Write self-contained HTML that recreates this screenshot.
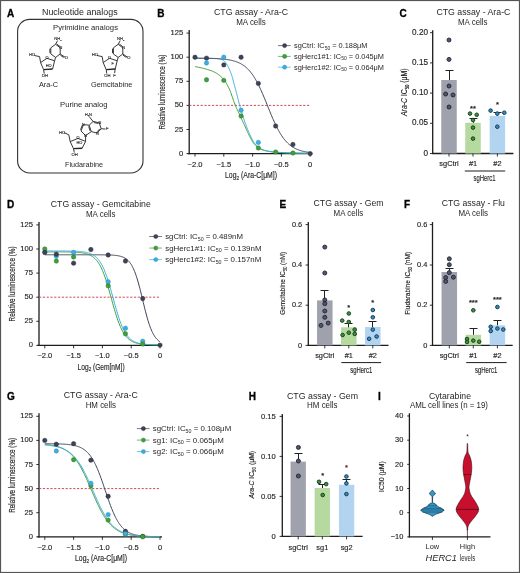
<!DOCTYPE html>
<html><head><meta charset="utf-8"><style>
html,body{margin:0;padding:0;background:#fff;}
svg{display:block;will-change:transform;}
text{font-family:"Liberation Sans", sans-serif;}
.h{stroke:#231f20;stroke-width:0.15px;}
</style></head><body>
<svg width="520" height="573" viewBox="0 0 520 573">
<rect width="520" height="573" fill="#fff"/>
<g fill="#231f20">
<rect x="0.5" y="0.5" width="519" height="572" fill="none" stroke="#555" stroke-width="1.2"/>
<text x="7.00" y="17.00" font-size="10" font-weight="bold" fill="#000" stroke="#000" stroke-width="0.3">A</text>
<text x="42.00" y="14.60" font-size="8.9" textLength="75.60" lengthAdjust="spacingAndGlyphs">Nucleotide analogs</text>
<rect x="17.6" y="19.4" width="125.4" height="153.6" rx="12" ry="12" fill="none" stroke="#333" stroke-width="1.1"/>
<text x="53.00" y="30.00" font-size="7.7" textLength="65.00" lengthAdjust="spacingAndGlyphs">Pyrimidine analogs</text>
<text x="39.00" y="87.00" font-size="7.3" textLength="19.00" lengthAdjust="spacingAndGlyphs">Ara-C</text>
<text x="91.00" y="87.00" font-size="7.4" textLength="41.40" lengthAdjust="spacingAndGlyphs">Gemcitabine</text>
<text x="60.00" y="107.40" font-size="7.7" textLength="47.60" lengthAdjust="spacingAndGlyphs">Purine analog</text>
<text x="65.00" y="167.00" font-size="7.2" textLength="38.00" lengthAdjust="spacingAndGlyphs">Fludarabine</text>
<line x1="55.60" y1="44.30" x2="57.60" y2="40.60" stroke="#222" stroke-width="0.9"/>
<line x1="55.60" y1="44.30" x2="60.20" y2="47.80" stroke="#222" stroke-width="0.9"/>
<line x1="56.83" y1="44.11" x2="60.05" y2="46.56" stroke="#222" stroke-width="0.9"/>
<line x1="60.20" y1="47.80" x2="60.20" y2="54.00" stroke="#222" stroke-width="0.9"/>
<line x1="60.20" y1="54.00" x2="55.60" y2="57.40" stroke="#222" stroke-width="0.9"/>
<line x1="55.60" y1="57.40" x2="50.80" y2="54.00" stroke="#222" stroke-width="0.9"/>
<line x1="50.80" y1="54.00" x2="50.80" y2="47.80" stroke="#222" stroke-width="0.9"/>
<line x1="49.90" y1="53.07" x2="49.90" y2="48.73" stroke="#222" stroke-width="0.9"/>
<line x1="50.80" y1="47.80" x2="55.60" y2="44.30" stroke="#222" stroke-width="0.9"/>
<line x1="60.20" y1="54.00" x2="65.00" y2="57.20" stroke="#222" stroke-width="0.9"/>
<line x1="60.42" y1="55.23" x2="63.78" y2="57.47" stroke="#222" stroke-width="0.9"/>
<text x="58.00" y="40.40" font-size="4.14" text-anchor="middle" style="fill:#222;stroke:#222;stroke-width:0.12px">NH<tspan font-size="2.4" dy="0.8">2</tspan></text>
<text x="61.00" y="49.10" font-size="3.9099999999999997" text-anchor="middle" style="fill:#222;stroke:#222;stroke-width:0.12px">N</text>
<text x="66.30" y="58.60" font-size="4.14" text-anchor="middle" style="fill:#222;stroke:#222;stroke-width:0.12px">O</text>
<line x1="40.60" y1="62.60" x2="46.90" y2="58.30" stroke="#222" stroke-width="0.9"/>
<line x1="46.90" y1="58.30" x2="54.60" y2="60.80" stroke="#222" stroke-width="0.9"/>
<line x1="54.60" y1="60.80" x2="52.60" y2="69.00" stroke="#222" stroke-width="0.9"/>
<line x1="52.60" y1="69.00" x2="43.60" y2="69.60" stroke="#222" stroke-width="1.4"/>
<line x1="43.60" y1="69.60" x2="40.60" y2="62.60" stroke="#222" stroke-width="0.9"/>
<line x1="54.60" y1="60.80" x2="55.60" y2="57.40" stroke="#222" stroke-width="0.9"/>
<line x1="40.60" y1="62.60" x2="39.60" y2="56.60" stroke="#222" stroke-width="0.9"/>
<line x1="39.60" y1="56.60" x2="34.40" y2="55.50" stroke="#222" stroke-width="0.9"/>
<text x="32.20" y="56.40" font-size="4.14" text-anchor="middle" style="fill:#222;stroke:#222;stroke-width:0.12px">HO</text>
<text x="46.90" y="58.70" font-size="3.9099999999999997" text-anchor="middle" style="fill:#222;stroke:#222;stroke-width:0.12px">O</text>
<line x1="43.60" y1="69.60" x2="44.20" y2="73.60" stroke="#222" stroke-width="0.9"/>
<text x="44.80" y="77.20" font-size="4.14" text-anchor="middle" style="fill:#222;stroke:#222;stroke-width:0.12px">OH</text>
<text x="48.60" y="66.80" font-size="3.9099999999999997" text-anchor="middle" style="fill:#222;stroke:#222;stroke-width:0.12px">HO</text>
<line x1="118.20" y1="44.30" x2="120.20" y2="40.60" stroke="#222" stroke-width="0.9"/>
<line x1="118.20" y1="44.30" x2="122.80" y2="47.80" stroke="#222" stroke-width="0.9"/>
<line x1="119.43" y1="44.11" x2="122.65" y2="46.56" stroke="#222" stroke-width="0.9"/>
<line x1="122.80" y1="47.80" x2="122.80" y2="54.00" stroke="#222" stroke-width="0.9"/>
<line x1="122.80" y1="54.00" x2="118.20" y2="57.40" stroke="#222" stroke-width="0.9"/>
<line x1="118.20" y1="57.40" x2="113.40" y2="54.00" stroke="#222" stroke-width="0.9"/>
<line x1="113.40" y1="54.00" x2="113.40" y2="47.80" stroke="#222" stroke-width="0.9"/>
<line x1="112.50" y1="53.07" x2="112.50" y2="48.73" stroke="#222" stroke-width="0.9"/>
<line x1="113.40" y1="47.80" x2="118.20" y2="44.30" stroke="#222" stroke-width="0.9"/>
<line x1="122.80" y1="54.00" x2="127.60" y2="57.20" stroke="#222" stroke-width="0.9"/>
<line x1="123.02" y1="55.23" x2="126.38" y2="57.47" stroke="#222" stroke-width="0.9"/>
<text x="120.60" y="40.40" font-size="4.14" text-anchor="middle" style="fill:#222;stroke:#222;stroke-width:0.12px">NH<tspan font-size="2.4" dy="0.8">2</tspan></text>
<text x="123.60" y="49.10" font-size="3.9099999999999997" text-anchor="middle" style="fill:#222;stroke:#222;stroke-width:0.12px">N</text>
<text x="128.90" y="58.60" font-size="4.14" text-anchor="middle" style="fill:#222;stroke:#222;stroke-width:0.12px">O</text>
<line x1="103.20" y1="62.60" x2="109.50" y2="58.30" stroke="#222" stroke-width="0.9"/>
<line x1="109.50" y1="58.30" x2="117.20" y2="60.80" stroke="#222" stroke-width="0.9"/>
<line x1="117.20" y1="60.80" x2="115.20" y2="69.00" stroke="#222" stroke-width="0.9"/>
<line x1="115.20" y1="69.00" x2="106.20" y2="69.60" stroke="#222" stroke-width="1.4"/>
<line x1="106.20" y1="69.60" x2="103.20" y2="62.60" stroke="#222" stroke-width="0.9"/>
<line x1="117.20" y1="60.80" x2="118.20" y2="57.40" stroke="#222" stroke-width="0.9"/>
<line x1="103.20" y1="62.60" x2="102.20" y2="56.60" stroke="#222" stroke-width="0.9"/>
<line x1="102.20" y1="56.60" x2="97.00" y2="55.50" stroke="#222" stroke-width="0.9"/>
<text x="94.80" y="56.40" font-size="4.14" text-anchor="middle" style="fill:#222;stroke:#222;stroke-width:0.12px">HO</text>
<text x="109.50" y="58.70" font-size="3.9099999999999997" text-anchor="middle" style="fill:#222;stroke:#222;stroke-width:0.12px">O</text>
<line x1="106.20" y1="69.60" x2="106.80" y2="73.60" stroke="#222" stroke-width="0.9"/>
<text x="107.40" y="77.20" font-size="4.14" text-anchor="middle" style="fill:#222;stroke:#222;stroke-width:0.12px">OH</text>
<line x1="115.20" y1="69.00" x2="114.60" y2="73.00" stroke="#222" stroke-width="0.9"/>
<text x="114.60" y="77.20" font-size="4.14" text-anchor="middle" style="fill:#222;stroke:#222;stroke-width:0.12px">F</text>
<text x="112.70" y="64.80" font-size="3.6799999999999997" text-anchor="middle" style="fill:#222;stroke:#222;stroke-width:0.12px">F</text>
<line x1="93.10" y1="121.40" x2="88.80" y2="116.20" stroke="#222" stroke-width="0.9"/>
<line x1="93.10" y1="121.40" x2="99.20" y2="122.80" stroke="#222" stroke-width="0.9"/>
<line x1="93.81" y1="122.49" x2="98.08" y2="123.47" stroke="#222" stroke-width="0.9"/>
<line x1="99.20" y1="122.80" x2="101.20" y2="128.80" stroke="#222" stroke-width="0.9"/>
<line x1="101.20" y1="128.80" x2="97.10" y2="133.00" stroke="#222" stroke-width="0.9"/>
<line x1="99.94" y1="128.80" x2="97.07" y2="131.74" stroke="#222" stroke-width="0.9"/>
<line x1="97.10" y1="133.00" x2="91.30" y2="131.60" stroke="#222" stroke-width="0.9"/>
<line x1="91.30" y1="131.60" x2="89.20" y2="125.20" stroke="#222" stroke-width="0.9"/>
<line x1="90.13" y1="130.92" x2="88.66" y2="126.44" stroke="#222" stroke-width="0.9"/>
<line x1="89.20" y1="125.20" x2="93.10" y2="121.40" stroke="#222" stroke-width="0.9"/>
<line x1="89.20" y1="125.20" x2="83.50" y2="124.60" stroke="#222" stroke-width="0.9"/>
<line x1="83.50" y1="124.60" x2="81.00" y2="131.00" stroke="#222" stroke-width="0.9"/>
<line x1="82.29" y1="125.23" x2="80.54" y2="129.71" stroke="#222" stroke-width="0.9"/>
<line x1="81.00" y1="131.00" x2="85.60" y2="135.60" stroke="#222" stroke-width="0.9"/>
<line x1="85.60" y1="135.60" x2="91.30" y2="131.60" stroke="#222" stroke-width="0.9"/>
<line x1="101.20" y1="128.80" x2="105.50" y2="129.00" stroke="#222" stroke-width="0.9"/>
<text x="88.30" y="115.60" font-size="4.14" text-anchor="middle" style="fill:#222;stroke:#222;stroke-width:0.12px">H<tspan font-size="2.4" dy="0.8">2</tspan><tspan dy="-0.8">N</tspan></text>
<text x="100.00" y="123.60" font-size="3.9099999999999997" text-anchor="middle" style="fill:#222;stroke:#222;stroke-width:0.12px">N</text>
<text x="97.40" y="135.00" font-size="3.9099999999999997" text-anchor="middle" style="fill:#222;stroke:#222;stroke-width:0.12px">N</text>
<text x="83.20" y="125.60" font-size="3.9099999999999997" text-anchor="middle" style="fill:#222;stroke:#222;stroke-width:0.12px">N</text>
<text x="107.20" y="130.40" font-size="4.14" text-anchor="middle" style="fill:#222;stroke:#222;stroke-width:0.12px">F</text>
<text x="85.60" y="137.40" font-size="3.6799999999999997" text-anchor="middle" style="fill:#222;stroke:#222;stroke-width:0.12px">N</text>
<line x1="85.60" y1="135.60" x2="85.60" y2="141.40" stroke="#222" stroke-width="0.9"/>
<line x1="70.20" y1="141.60" x2="78.00" y2="138.40" stroke="#222" stroke-width="0.9"/>
<line x1="78.00" y1="138.40" x2="85.60" y2="141.40" stroke="#222" stroke-width="0.9"/>
<line x1="85.60" y1="141.40" x2="82.20" y2="148.20" stroke="#222" stroke-width="0.9"/>
<line x1="82.20" y1="148.20" x2="73.50" y2="148.60" stroke="#222" stroke-width="1.4"/>
<line x1="73.50" y1="148.60" x2="70.20" y2="141.60" stroke="#222" stroke-width="0.9"/>
<line x1="70.20" y1="141.60" x2="68.80" y2="134.80" stroke="#222" stroke-width="0.9"/>
<line x1="68.80" y1="134.80" x2="64.20" y2="132.70" stroke="#222" stroke-width="0.9"/>
<text x="62.00" y="133.60" font-size="4.14" text-anchor="middle" style="fill:#222;stroke:#222;stroke-width:0.12px">HO</text>
<text x="78.00" y="138.80" font-size="3.9099999999999997" text-anchor="middle" style="fill:#222;stroke:#222;stroke-width:0.12px">O</text>
<text x="79.40" y="144.00" font-size="3.9099999999999997" text-anchor="middle" style="fill:#222;stroke:#222;stroke-width:0.12px">HO</text>
<line x1="73.50" y1="148.60" x2="74.30" y2="152.60" stroke="#222" stroke-width="0.9"/>
<text x="74.60" y="156.00" font-size="4.14" text-anchor="middle" style="fill:#222;stroke:#222;stroke-width:0.12px">OH</text>
<text x="157.30" y="16.60" font-size="10" font-weight="bold" fill="#000" stroke="#000" stroke-width="0.3">B</text>
<text x="251.00" y="15.10" font-size="9.4" text-anchor="middle" textLength="74.00" lengthAdjust="spacingAndGlyphs">CTG assay - Ara-C</text>
<text x="251.00" y="24.80" font-size="8.2" text-anchor="middle" textLength="29.60" lengthAdjust="spacingAndGlyphs">MA cells</text>
<line x1="189.20" y1="30.10" x2="189.20" y2="154.20" stroke="#1c1c1c" stroke-width="1.3"/>
<line x1="187.70" y1="153.60" x2="312.20" y2="153.60" stroke="#1c1c1c" stroke-width="1.3"/>
<line x1="186.50" y1="153.60" x2="189.20" y2="153.60" stroke="#1c1c1c" stroke-width="0.9"/>
<text x="183.20" y="155.60" font-size="7.6" class="h" text-anchor="end">0</text>
<line x1="186.50" y1="129.50" x2="189.20" y2="129.50" stroke="#1c1c1c" stroke-width="0.9"/>
<text x="183.20" y="131.50" font-size="7.6" class="h" text-anchor="end">25</text>
<line x1="186.50" y1="105.40" x2="189.20" y2="105.40" stroke="#1c1c1c" stroke-width="0.9"/>
<text x="183.20" y="107.40" font-size="7.6" class="h" text-anchor="end">50</text>
<line x1="186.50" y1="81.30" x2="189.20" y2="81.30" stroke="#1c1c1c" stroke-width="0.9"/>
<text x="183.20" y="83.30" font-size="7.6" class="h" text-anchor="end">75</text>
<line x1="186.50" y1="57.20" x2="189.20" y2="57.20" stroke="#1c1c1c" stroke-width="0.9"/>
<text x="183.20" y="59.20" font-size="7.6" class="h" text-anchor="end">100</text>
<line x1="186.50" y1="33.10" x2="189.20" y2="33.10" stroke="#1c1c1c" stroke-width="0.9"/>
<text x="183.20" y="35.10" font-size="7.6" class="h" text-anchor="end">125</text>
<line x1="195.00" y1="153.60" x2="195.00" y2="156.60" stroke="#1c1c1c" stroke-width="0.9"/>
<text x="195.00" y="166.50" font-size="7.5" class="h" text-anchor="middle">−2.0</text>
<line x1="223.80" y1="153.60" x2="223.80" y2="156.60" stroke="#1c1c1c" stroke-width="0.9"/>
<text x="223.80" y="166.50" font-size="7.5" class="h" text-anchor="middle">−1.5</text>
<line x1="252.60" y1="153.60" x2="252.60" y2="156.60" stroke="#1c1c1c" stroke-width="0.9"/>
<text x="252.60" y="166.50" font-size="7.5" class="h" text-anchor="middle">−1.0</text>
<line x1="281.40" y1="153.60" x2="281.40" y2="156.60" stroke="#1c1c1c" stroke-width="0.9"/>
<text x="281.40" y="166.50" font-size="7.5" class="h" text-anchor="middle">−0.5</text>
<line x1="310.20" y1="153.60" x2="310.20" y2="156.60" stroke="#1c1c1c" stroke-width="0.9"/>
<text x="310.20" y="166.50" font-size="7.5" class="h" text-anchor="middle">0</text>
<text x="164.80" y="92.10" font-size="8.4" class="h" text-anchor="middle" textLength="75.00" lengthAdjust="spacingAndGlyphs" transform="rotate(-90 164.80 92.10)">Relative luminescence (%)</text>
<text class="h" x="225.00" y="178.00" font-size="8.4" textLength="52" lengthAdjust="spacingAndGlyphs">Log<tspan font-size="5.8" dy="1.5">2</tspan><tspan dy="-1.5"> (Ara-C[μM])</tspan></text>
<line x1="189.20" y1="105.40" x2="310.20" y2="105.40" stroke="#c23a48" stroke-width="0.9" stroke-dasharray="2.2,1.6"/>
<path d="M195.00,66.50 L195.83,66.69 L196.67,66.87 L197.50,67.05 L198.33,67.23 L199.17,67.41 L200.00,67.59 L200.83,67.77 L201.67,67.96 L202.50,68.15 L203.33,68.36 L204.17,68.57 L205.00,68.80 L205.83,69.04 L206.67,69.28 L207.50,69.52 L208.33,69.78 L209.17,70.04 L210.00,70.32 L210.83,70.62 L211.67,70.93 L212.50,71.26 L213.33,71.62 L214.17,72.00 L215.00,72.40 L215.71,72.77 L216.42,73.18 L217.12,73.62 L217.83,74.10 L218.54,74.61 L219.25,75.15 L219.96,75.74 L220.67,76.35 L221.38,77.01 L222.08,77.70 L222.79,78.43 L223.50,79.20 L223.99,79.78 L224.48,80.41 L224.97,81.10 L225.47,81.85 L225.96,82.64 L226.45,83.47 L226.94,84.34 L227.43,85.26 L227.93,86.20 L228.42,87.18 L228.91,88.18 L229.40,89.20 L229.85,90.20 L230.30,91.30 L230.75,92.49 L231.20,93.74 L231.65,95.04 L232.10,96.37 L232.55,97.71 L233.00,99.05 L233.45,100.36 L233.90,101.64 L234.35,102.86 L234.80,104.00 L235.28,105.17 L235.77,106.30 L236.25,107.40 L236.73,108.49 L237.22,109.55 L237.70,110.60 L238.18,111.63 L238.67,112.66 L239.15,113.69 L239.63,114.72 L240.12,115.75 L240.60,116.80 L240.92,117.51 L241.25,118.21 L241.57,118.91 L241.90,119.61 L242.22,120.31 L242.55,121.01 L242.88,121.71 L243.20,122.40 L243.53,123.10 L243.85,123.80 L244.18,124.50 L244.50,125.20 L244.91,126.09 L245.32,127.00 L245.72,127.91 L246.13,128.83 L246.54,129.75 L246.95,130.67 L247.36,131.57 L247.77,132.47 L248.18,133.34 L248.58,134.19 L248.99,135.01 L249.40,135.80 L249.81,136.57 L250.22,137.35 L250.62,138.11 L251.03,138.87 L251.44,139.62 L251.85,140.34 L252.26,141.04 L252.67,141.71 L253.08,142.35 L253.48,142.94 L253.89,143.50 L254.30,144.00 L254.71,144.47 L255.12,144.93 L255.53,145.37 L255.93,145.80 L256.34,146.20 L256.75,146.59 L257.16,146.95 L257.57,147.30 L257.98,147.61 L258.38,147.90 L258.79,148.17 L259.20,148.40 L259.77,148.69 L260.33,148.97 L260.90,149.24 L261.47,149.48 L262.03,149.72 L262.60,149.93 L263.17,150.13 L263.73,150.32 L264.30,150.49 L264.87,150.64 L265.43,150.78 L266.00,150.90 L266.67,151.03 L267.33,151.15 L268.00,151.27 L268.67,151.38 L269.33,151.48 L270.00,151.57 L270.67,151.66 L271.33,151.74 L272.00,151.81 L272.67,151.88 L273.33,151.94 L274.00,152.00 L275.33,152.11 L276.67,152.21 L278.00,152.31 L279.33,152.40 L280.67,152.48 L282.00,152.56 L283.33,152.63 L284.67,152.69 L286.00,152.75 L287.33,152.81 L288.67,152.86 L290.00,152.90 L291.67,152.95 L293.33,152.99 L295.00,153.03 L296.67,153.06 L298.33,153.10 L300.00,153.13 L301.67,153.15 L303.33,153.18 L305.00,153.21 L306.67,153.24 L308.33,153.27 L310.00,153.30" fill="none" stroke="#3f9f3a" stroke-width="1"/>
<path d="M195.00,58.20 L196.25,58.21 L197.50,58.21 L198.75,58.22 L200.00,58.23 L201.25,58.23 L202.50,58.24 L203.75,58.25 L205.00,58.25 L206.25,58.26 L207.50,58.27 L208.75,58.29 L210.00,58.30 L210.67,58.31 L211.33,58.32 L212.00,58.33 L212.67,58.35 L213.33,58.37 L214.00,58.39 L214.67,58.42 L215.33,58.45 L216.00,58.48 L216.67,58.51 L217.33,58.56 L218.00,58.60 L218.25,58.62 L218.50,58.65 L218.75,58.68 L219.00,58.72 L219.25,58.77 L219.50,58.82 L219.75,58.87 L220.00,58.93 L220.25,58.99 L220.50,59.06 L220.75,59.13 L221.00,59.20 L221.25,59.28 L221.50,59.37 L221.75,59.47 L222.00,59.58 L222.25,59.70 L222.50,59.83 L222.75,59.97 L223.00,60.12 L223.25,60.28 L223.50,60.44 L223.75,60.62 L224.00,60.80 L224.21,60.97 L224.42,61.15 L224.62,61.36 L224.83,61.58 L225.04,61.82 L225.25,62.08 L225.46,62.34 L225.67,62.62 L225.88,62.90 L226.08,63.20 L226.29,63.50 L226.50,63.80 L226.71,64.11 L226.92,64.45 L227.12,64.80 L227.33,65.16 L227.54,65.54 L227.75,65.94 L227.96,66.34 L228.17,66.76 L228.38,67.18 L228.58,67.62 L228.79,68.06 L229.00,68.50 L229.22,68.97 L229.43,69.45 L229.65,69.94 L229.87,70.44 L230.08,70.96 L230.30,71.49 L230.52,72.03 L230.73,72.59 L230.95,73.17 L231.17,73.76 L231.38,74.37 L231.60,75.00 L231.84,75.74 L232.08,76.52 L232.32,77.34 L232.57,78.19 L232.81,79.07 L233.05,79.97 L233.29,80.89 L233.53,81.82 L233.78,82.75 L234.02,83.67 L234.26,84.59 L234.50,85.50 L234.71,86.28 L234.92,87.06 L235.12,87.84 L235.33,88.63 L235.54,89.42 L235.75,90.21 L235.96,91.01 L236.17,91.81 L236.38,92.61 L236.58,93.40 L236.79,94.20 L237.00,95.00 L237.22,95.87 L237.45,96.74 L237.68,97.62 L237.90,98.51 L238.12,99.39 L238.35,100.28 L238.57,101.16 L238.80,102.03 L239.02,102.90 L239.25,103.75 L239.47,104.58 L239.70,105.40 L239.85,105.93 L240.00,106.46 L240.15,106.98 L240.30,107.50 L240.45,108.01 L240.60,108.52 L240.75,109.02 L240.90,109.52 L241.05,110.02 L241.20,110.51 L241.35,111.01 L241.50,111.50 L241.75,112.32 L242.00,113.15 L242.25,113.97 L242.50,114.79 L242.75,115.60 L243.00,116.41 L243.25,117.21 L243.50,118.00 L243.75,118.77 L244.00,119.53 L244.25,120.28 L244.50,121.00 L244.91,122.16 L245.32,123.30 L245.72,124.42 L246.13,125.52 L246.54,126.60 L246.95,127.66 L247.36,128.70 L247.77,129.71 L248.18,130.70 L248.58,131.66 L248.99,132.60 L249.40,133.50 L249.81,134.39 L250.22,135.27 L250.62,136.15 L251.03,137.01 L251.44,137.85 L251.85,138.67 L252.26,139.46 L252.67,140.22 L253.08,140.93 L253.48,141.61 L253.89,142.23 L254.30,142.80 L254.71,143.34 L255.12,143.85 L255.53,144.36 L255.93,144.84 L256.34,145.30 L256.75,145.75 L257.16,146.16 L257.57,146.55 L257.98,146.91 L258.38,147.24 L258.79,147.54 L259.20,147.80 L259.77,148.13 L260.33,148.44 L260.90,148.73 L261.47,149.01 L262.03,149.26 L262.60,149.50 L263.17,149.72 L263.73,149.93 L264.30,150.12 L264.87,150.29 L265.43,150.45 L266.00,150.60 L266.67,150.76 L267.33,150.92 L268.00,151.06 L268.67,151.20 L269.33,151.33 L270.00,151.45 L270.67,151.56 L271.33,151.67 L272.00,151.76 L272.67,151.85 L273.33,151.93 L274.00,152.00 L275.33,152.13 L276.67,152.24 L278.00,152.35 L279.33,152.45 L280.67,152.55 L282.00,152.63 L283.33,152.71 L284.67,152.78 L286.00,152.85 L287.33,152.90 L288.67,152.96 L290.00,153.00 L291.67,153.05 L293.33,153.09 L295.00,153.13 L296.67,153.17 L298.33,153.20 L300.00,153.23 L301.67,153.26 L303.33,153.28 L305.00,153.31 L306.67,153.34 L308.33,153.37 L310.00,153.40" fill="none" stroke="#3eaee0" stroke-width="1"/>
<polyline points="195.00,58.21 195.58,58.22 196.15,58.22 196.73,58.22 197.30,58.23 197.88,58.23 198.46,58.24 199.03,58.24 199.61,58.25 200.18,58.25 200.76,58.26 201.34,58.26 201.91,58.27 202.49,58.27 203.06,58.28 203.64,58.29 204.22,58.30 204.79,58.30 205.37,58.31 205.94,58.32 206.52,58.33 207.10,58.34 207.67,58.35 208.25,58.36 208.82,58.38 209.40,58.39 209.98,58.40 210.55,58.42 211.13,58.43 211.70,58.45 212.28,58.47 212.86,58.49 213.43,58.51 214.01,58.53 214.58,58.55 215.16,58.57 215.74,58.60 216.31,58.62 216.89,58.65 217.46,58.68 218.04,58.72 218.62,58.75 219.19,58.78 219.77,58.82 220.34,58.86 220.92,58.91 221.50,58.95 222.07,59.00 222.65,59.05 223.22,59.10 223.80,59.16 224.38,59.22 224.95,59.29 225.53,59.36 226.10,59.43 226.68,59.51 227.26,59.59 227.83,59.67 228.41,59.76 228.98,59.86 229.56,59.96 230.14,60.07 230.71,60.19 231.29,60.31 231.86,60.44 232.44,60.58 233.02,60.72 233.59,60.88 234.17,61.04 234.74,61.21 235.32,61.39 235.90,61.58 236.47,61.79 237.05,62.00 237.62,62.23 238.20,62.47 238.78,62.72 239.35,62.99 239.93,63.27 240.50,63.56 241.08,63.88 241.66,64.21 242.23,64.56 242.81,64.92 243.38,65.31 243.96,65.71 244.54,66.14 245.11,66.59 245.69,67.06 246.26,67.56 246.84,68.07 247.42,68.62 247.99,69.19 248.57,69.79 249.14,70.41 249.72,71.07 250.30,71.75 250.87,72.46 251.45,73.20 252.02,73.98 252.60,74.78 253.18,75.62 253.75,76.49 254.33,77.39 254.90,78.33 255.48,79.30 256.06,80.30 256.63,81.33 257.21,82.40 257.78,83.50 258.36,84.63 258.94,85.79 259.51,86.98 260.09,88.20 260.66,89.44 261.24,90.71 261.82,92.01 262.39,93.33 262.97,94.67 263.54,96.03 264.12,97.40 264.70,98.79 265.27,100.20 265.85,101.61 266.42,103.03 267.00,104.45 267.58,105.88 268.15,107.31 268.73,108.74 269.30,110.16 269.88,111.57 270.46,112.97 271.03,114.36 271.61,115.74 272.18,117.10 272.76,118.44 273.34,119.75 273.91,121.05 274.49,122.32 275.06,123.57 275.64,124.79 276.22,125.98 276.79,127.14 277.37,128.26 277.94,129.36 278.52,130.43 279.10,131.46 279.67,132.47 280.25,133.43 280.82,134.37 281.40,135.27 281.98,136.14 282.55,136.98 283.13,137.79 283.70,138.56 284.28,139.30 284.86,140.02 285.43,140.70 286.01,141.35 286.58,141.98 287.16,142.57 287.74,143.15 288.31,143.69 288.89,144.21 289.46,144.70 290.04,145.17 290.62,145.62 291.19,146.05 291.77,146.46 292.34,146.84 292.92,147.21 293.50,147.56 294.07,147.89 294.65,148.20 295.22,148.50 295.80,148.78 296.38,149.05 296.95,149.30 297.53,149.54 298.10,149.76 298.68,149.98 299.26,150.18 299.83,150.37 300.41,150.55 300.98,150.73 301.56,150.89 302.14,151.04 302.71,151.19 303.29,151.32 303.86,151.45 304.44,151.58 305.02,151.69 305.59,151.80 306.17,151.90 306.74,152.00 307.32,152.09 307.90,152.18 308.47,152.26 309.05,152.34 309.62,152.41 310.20,152.48" fill="none" stroke="#3d4257" stroke-width="1"/>
<circle cx="195.00" cy="57.20" r="2.2" fill="#3d4257" stroke="#2a2e3c" stroke-width="0.5"/>
<circle cx="206.52" cy="58.16" r="2.2" fill="#3d4257" stroke="#2a2e3c" stroke-width="0.5"/>
<circle cx="223.80" cy="64.91" r="2.2" fill="#3d4257" stroke="#2a2e3c" stroke-width="0.5"/>
<circle cx="241.08" cy="57.20" r="2.2" fill="#3d4257" stroke="#2a2e3c" stroke-width="0.5"/>
<circle cx="258.36" cy="83.42" r="2.2" fill="#3d4257" stroke="#2a2e3c" stroke-width="0.5"/>
<circle cx="275.64" cy="126.03" r="2.2" fill="#3d4257" stroke="#2a2e3c" stroke-width="0.5"/>
<circle cx="292.92" cy="144.44" r="2.2" fill="#3d4257" stroke="#2a2e3c" stroke-width="0.5"/>
<circle cx="310.20" cy="153.60" r="2.2" fill="#3d4257" stroke="#2a2e3c" stroke-width="0.5"/>
<circle cx="206.52" cy="62.98" r="2.2" fill="#3eaee0" stroke="#2a8ec0" stroke-width="0.5"/>
<circle cx="223.80" cy="57.20" r="2.2" fill="#3eaee0" stroke="#2a8ec0" stroke-width="0.5"/>
<circle cx="241.08" cy="110.22" r="2.2" fill="#3eaee0" stroke="#2a8ec0" stroke-width="0.5"/>
<circle cx="258.36" cy="142.42" r="2.2" fill="#3eaee0" stroke="#2a8ec0" stroke-width="0.5"/>
<circle cx="206.52" cy="79.76" r="2.2" fill="#3f9f3a" stroke="#2a7a2a" stroke-width="0.5"/>
<circle cx="223.80" cy="80.34" r="2.2" fill="#3f9f3a" stroke="#2a7a2a" stroke-width="0.5"/>
<circle cx="241.08" cy="116.00" r="2.2" fill="#3f9f3a" stroke="#2a7a2a" stroke-width="0.5"/>
<circle cx="258.36" cy="148.01" r="2.2" fill="#3f9f3a" stroke="#2a7a2a" stroke-width="0.5"/>
<circle cx="275.64" cy="152.06" r="2.2" fill="#3f9f3a" stroke="#2a7a2a" stroke-width="0.5"/>
<circle cx="292.92" cy="153.02" r="2.2" fill="#3f9f3a" stroke="#2a7a2a" stroke-width="0.5"/>
<line x1="278.00" y1="45.60" x2="290.70" y2="45.60" stroke="#3d4257" stroke-width="1" stroke-opacity="0.7"/>
<circle cx="284.60" cy="45.60" r="2.1" fill="#3d4257" stroke="#2a2e3c" stroke-width="0.4"/>
<text x="294.00" y="48.20" font-size="7.4" textLength="73.4" lengthAdjust="spacingAndGlyphs">sgCtrl: IC<tspan font-size="5" dy="1.4">50</tspan><tspan dy="-1.4"> = 0.188μM</tspan></text>
<line x1="278.00" y1="56.40" x2="290.70" y2="56.40" stroke="#3f9f3a" stroke-width="1" stroke-opacity="0.7"/>
<circle cx="284.60" cy="56.40" r="2.1" fill="#3f9f3a" stroke="#2a7a2a" stroke-width="0.4"/>
<text x="294.00" y="59.00" font-size="7.4" textLength="90" lengthAdjust="spacingAndGlyphs">sgHerc1#1: IC<tspan font-size="5" dy="1.4">50</tspan><tspan dy="-1.4"> = 0.045μM</tspan></text>
<line x1="278.00" y1="67.20" x2="290.70" y2="67.20" stroke="#3eaee0" stroke-width="1" stroke-opacity="0.7"/>
<circle cx="284.60" cy="67.20" r="2.1" fill="#3eaee0" stroke="#2a8ec0" stroke-width="0.4"/>
<text x="294.00" y="69.80" font-size="7.4" textLength="90" lengthAdjust="spacingAndGlyphs">sgHerc1#2: IC<tspan font-size="5" dy="1.4">50</tspan><tspan dy="-1.4"> = 0.064μM</tspan></text>
<text x="7.00" y="208.40" font-size="10" font-weight="bold" fill="#000" stroke="#000" stroke-width="0.3">D</text>
<text x="100.80" y="206.90" font-size="9.4" text-anchor="middle" textLength="100.00" lengthAdjust="spacingAndGlyphs">CTG assay - Gemcitabine</text>
<text x="100.80" y="216.60" font-size="8.2" text-anchor="middle" textLength="29.60" lengthAdjust="spacingAndGlyphs">MA cells</text>
<line x1="39.00" y1="221.90" x2="39.00" y2="346.00" stroke="#1c1c1c" stroke-width="1.3"/>
<line x1="37.50" y1="345.40" x2="162.00" y2="345.40" stroke="#1c1c1c" stroke-width="1.3"/>
<line x1="36.30" y1="345.40" x2="39.00" y2="345.40" stroke="#1c1c1c" stroke-width="0.9"/>
<text x="33.00" y="347.40" font-size="7.6" class="h" text-anchor="end">0</text>
<line x1="36.30" y1="321.30" x2="39.00" y2="321.30" stroke="#1c1c1c" stroke-width="0.9"/>
<text x="33.00" y="323.30" font-size="7.6" class="h" text-anchor="end">25</text>
<line x1="36.30" y1="297.20" x2="39.00" y2="297.20" stroke="#1c1c1c" stroke-width="0.9"/>
<text x="33.00" y="299.20" font-size="7.6" class="h" text-anchor="end">50</text>
<line x1="36.30" y1="273.10" x2="39.00" y2="273.10" stroke="#1c1c1c" stroke-width="0.9"/>
<text x="33.00" y="275.10" font-size="7.6" class="h" text-anchor="end">75</text>
<line x1="36.30" y1="249.00" x2="39.00" y2="249.00" stroke="#1c1c1c" stroke-width="0.9"/>
<text x="33.00" y="251.00" font-size="7.6" class="h" text-anchor="end">100</text>
<line x1="36.30" y1="224.90" x2="39.00" y2="224.90" stroke="#1c1c1c" stroke-width="0.9"/>
<text x="33.00" y="226.90" font-size="7.6" class="h" text-anchor="end">125</text>
<line x1="44.80" y1="345.40" x2="44.80" y2="348.40" stroke="#1c1c1c" stroke-width="0.9"/>
<text x="44.80" y="358.30" font-size="7.5" class="h" text-anchor="middle">−2.0</text>
<line x1="73.60" y1="345.40" x2="73.60" y2="348.40" stroke="#1c1c1c" stroke-width="0.9"/>
<text x="73.60" y="358.30" font-size="7.5" class="h" text-anchor="middle">−1.5</text>
<line x1="102.40" y1="345.40" x2="102.40" y2="348.40" stroke="#1c1c1c" stroke-width="0.9"/>
<text x="102.40" y="358.30" font-size="7.5" class="h" text-anchor="middle">−1.0</text>
<line x1="131.20" y1="345.40" x2="131.20" y2="348.40" stroke="#1c1c1c" stroke-width="0.9"/>
<text x="131.20" y="358.30" font-size="7.5" class="h" text-anchor="middle">−0.5</text>
<line x1="160.00" y1="345.40" x2="160.00" y2="348.40" stroke="#1c1c1c" stroke-width="0.9"/>
<text x="160.00" y="358.30" font-size="7.5" class="h" text-anchor="middle">0</text>
<text x="14.60" y="283.90" font-size="8.4" class="h" text-anchor="middle" textLength="75.00" lengthAdjust="spacingAndGlyphs" transform="rotate(-90 14.60 283.90)">Relative luminescence (%)</text>
<text class="h" x="77.60" y="369.80" font-size="8.4" textLength="47" lengthAdjust="spacingAndGlyphs">Log<tspan font-size="5.8" dy="1.5">2</tspan><tspan dy="-1.5"> (Gem[nM])</tspan></text>
<line x1="39.00" y1="297.20" x2="160.00" y2="297.20" stroke="#c23a48" stroke-width="0.9" stroke-dasharray="2.2,1.6"/>
<polyline points="44.80,254.78 45.38,254.78 45.95,254.78 46.53,254.78 47.10,254.78 47.68,254.78 48.26,254.78 48.83,254.78 49.41,254.78 49.98,254.78 50.56,254.78 51.14,254.78 51.71,254.78 52.29,254.78 52.86,254.78 53.44,254.78 54.02,254.78 54.59,254.78 55.17,254.78 55.74,254.78 56.32,254.78 56.90,254.78 57.47,254.78 58.05,254.78 58.62,254.78 59.20,254.78 59.78,254.78 60.35,254.78 60.93,254.78 61.50,254.78 62.08,254.78 62.66,254.78 63.23,254.78 63.81,254.78 64.38,254.78 64.96,254.78 65.54,254.78 66.11,254.78 66.69,254.78 67.26,254.78 67.84,254.78 68.42,254.78 68.99,254.78 69.57,254.78 70.14,254.78 70.72,254.78 71.30,254.78 71.87,254.78 72.45,254.78 73.02,254.78 73.60,254.78 74.18,254.78 74.75,254.78 75.33,254.78 75.90,254.78 76.48,254.78 77.06,254.78 77.63,254.78 78.21,254.78 78.78,254.78 79.36,254.78 79.94,254.78 80.51,254.78 81.09,254.79 81.66,254.79 82.24,254.79 82.82,254.79 83.39,254.79 83.97,254.79 84.54,254.79 85.12,254.79 85.70,254.79 86.27,254.79 86.85,254.79 87.42,254.79 88.00,254.79 88.58,254.79 89.15,254.79 89.73,254.79 90.30,254.79 90.88,254.79 91.46,254.79 92.03,254.79 92.61,254.79 93.18,254.79 93.76,254.80 94.34,254.80 94.91,254.80 95.49,254.80 96.06,254.80 96.64,254.80 97.22,254.81 97.79,254.81 98.37,254.81 98.94,254.81 99.52,254.82 100.10,254.82 100.67,254.82 101.25,254.83 101.82,254.83 102.40,254.84 102.98,254.84 103.55,254.85 104.13,254.86 104.70,254.87 105.28,254.88 105.86,254.89 106.43,254.90 107.01,254.91 107.58,254.93 108.16,254.94 108.74,254.96 109.31,254.98 109.89,255.00 110.46,255.02 111.04,255.05 111.62,255.08 112.19,255.11 112.77,255.15 113.34,255.19 113.92,255.24 114.50,255.29 115.07,255.34 115.65,255.40 116.22,255.47 116.80,255.55 117.38,255.63 117.95,255.73 118.53,255.83 119.10,255.95 119.68,256.08 120.26,256.22 120.83,256.37 121.41,256.55 121.98,256.74 122.56,256.96 123.14,257.19 123.71,257.45 124.29,257.74 124.86,258.06 125.44,258.41 126.02,258.80 126.59,259.22 127.17,259.69 127.74,260.21 128.32,260.77 128.90,261.40 129.47,262.07 130.05,262.82 130.62,263.63 131.20,264.51 131.78,265.47 132.35,266.51 132.93,267.63 133.50,268.84 134.08,270.15 134.66,271.55 135.23,273.04 135.81,274.64 136.38,276.33 136.96,278.11 137.54,280.00 138.11,281.97 138.69,284.02 139.26,286.16 139.84,288.37 140.42,290.64 140.99,292.95 141.57,295.31 142.14,297.69 142.72,300.09 143.30,302.49 143.87,304.87 144.45,307.23 145.02,309.55 145.60,311.82 146.18,314.02 146.75,316.16 147.33,318.22 147.90,320.19 148.48,322.07 149.06,323.86 149.63,325.55 150.21,327.14 150.78,328.64 151.36,330.04 151.94,331.34 152.51,332.55 153.09,333.68 153.66,334.72 154.24,335.67 154.82,336.56 155.39,337.37 155.97,338.11 156.54,338.79 157.12,339.41 157.70,339.98 158.27,340.49 158.85,340.96 159.42,341.39 160.00,341.77" fill="none" stroke="#3d4257" stroke-width="1"/>
<polyline points="44.80,251.89 45.38,251.90 45.95,251.90 46.53,251.90 47.10,251.90 47.68,251.90 48.26,251.90 48.83,251.90 49.41,251.90 49.98,251.90 50.56,251.90 51.14,251.90 51.71,251.90 52.29,251.90 52.86,251.90 53.44,251.90 54.02,251.90 54.59,251.91 55.17,251.91 55.74,251.91 56.32,251.91 56.90,251.91 57.47,251.91 58.05,251.91 58.62,251.92 59.20,251.92 59.78,251.92 60.35,251.92 60.93,251.93 61.50,251.93 62.08,251.94 62.66,251.94 63.23,251.94 63.81,251.95 64.38,251.95 64.96,251.96 65.54,251.97 66.11,251.97 66.69,251.98 67.26,251.99 67.84,252.00 68.42,252.01 68.99,252.02 69.57,252.03 70.14,252.04 70.72,252.06 71.30,252.07 71.87,252.09 72.45,252.11 73.02,252.13 73.60,252.15 74.18,252.17 74.75,252.20 75.33,252.23 75.90,252.26 76.48,252.30 77.06,252.33 77.63,252.38 78.21,252.42 78.78,252.47 79.36,252.52 79.94,252.58 80.51,252.65 81.09,252.72 81.66,252.80 82.24,252.88 82.82,252.97 83.39,253.07 83.97,253.18 84.54,253.30 85.12,253.43 85.70,253.57 86.27,253.73 86.85,253.89 87.42,254.08 88.00,254.28 88.58,254.50 89.15,254.73 89.73,254.99 90.30,255.27 90.88,255.58 91.46,255.91 92.03,256.27 92.61,256.66 93.18,257.08 93.76,257.54 94.34,258.04 94.91,258.57 95.49,259.15 96.06,259.77 96.64,260.45 97.22,261.17 97.79,261.95 98.37,262.78 98.94,263.68 99.52,264.63 100.10,265.65 100.67,266.74 101.25,267.89 101.82,269.12 102.40,270.41 102.98,271.78 103.55,273.22 104.13,274.73 104.70,276.32 105.28,277.97 105.86,279.69 106.43,281.47 107.01,283.31 107.58,285.20 108.16,287.15 108.74,289.13 109.31,291.16 109.89,293.21 110.46,295.28 111.04,297.36 111.62,299.45 112.19,301.53 112.77,303.60 113.34,305.65 113.92,307.68 114.50,309.66 115.07,311.61 115.65,313.50 116.22,315.34 116.80,317.12 117.38,318.84 117.95,320.49 118.53,322.08 119.10,323.59 119.68,325.03 120.26,326.40 120.83,327.69 121.41,328.92 121.98,330.07 122.56,331.16 123.14,332.18 123.71,333.13 124.29,334.03 124.86,334.86 125.44,335.64 126.02,336.36 126.59,337.04 127.17,337.66 127.74,338.24 128.32,338.77 128.90,339.27 129.47,339.73 130.05,340.15 130.62,340.54 131.20,340.90 131.78,341.23 132.35,341.54 132.93,341.82 133.50,342.08 134.08,342.31 134.66,342.53 135.23,342.73 135.81,342.92 136.38,343.08 136.96,343.24 137.54,343.38 138.11,343.51 138.69,343.63 139.26,343.74 139.84,343.84 140.42,343.93 140.99,344.01 141.57,344.09 142.14,344.16 142.72,344.23 143.30,344.29 143.87,344.34 144.45,344.39 145.02,344.43 145.60,344.48 146.18,344.51 146.75,344.55 147.33,344.58 147.90,344.61 148.48,344.64 149.06,344.66 149.63,344.68 150.21,344.70 150.78,344.72 151.36,344.74 151.94,344.75 152.51,344.77 153.09,344.78 153.66,344.79 154.24,344.80 154.82,344.81 155.39,344.82 155.97,344.83 156.54,344.84 157.12,344.84 157.70,344.85 158.27,344.86 158.85,344.86 159.42,344.87 160.00,344.87" fill="none" stroke="#3f9f3a" stroke-width="1"/>
<polyline points="44.80,250.93 45.38,250.93 45.95,250.93 46.53,250.93 47.10,250.93 47.68,250.93 48.26,250.93 48.83,250.93 49.41,250.93 49.98,250.93 50.56,250.93 51.14,250.93 51.71,250.93 52.29,250.94 52.86,250.94 53.44,250.94 54.02,250.94 54.59,250.94 55.17,250.94 55.74,250.94 56.32,250.94 56.90,250.94 57.47,250.94 58.05,250.95 58.62,250.95 59.20,250.95 59.78,250.95 60.35,250.95 60.93,250.96 61.50,250.96 62.08,250.96 62.66,250.96 63.23,250.97 63.81,250.97 64.38,250.98 64.96,250.98 65.54,250.98 66.11,250.99 66.69,251.00 67.26,251.00 67.84,251.01 68.42,251.02 68.99,251.03 69.57,251.03 70.14,251.04 70.72,251.06 71.30,251.07 71.87,251.08 72.45,251.10 73.02,251.11 73.60,251.13 74.18,251.15 74.75,251.17 75.33,251.19 75.90,251.21 76.48,251.24 77.06,251.27 77.63,251.30 78.21,251.34 78.78,251.38 79.36,251.42 79.94,251.46 80.51,251.51 81.09,251.57 81.66,251.63 82.24,251.69 82.82,251.76 83.39,251.84 83.97,251.93 84.54,252.02 85.12,252.12 85.70,252.23 86.27,252.35 86.85,252.48 87.42,252.62 88.00,252.78 88.58,252.95 89.15,253.14 89.73,253.34 90.30,253.56 90.88,253.80 91.46,254.06 92.03,254.34 92.61,254.65 93.18,254.99 93.76,255.35 94.34,255.74 94.91,256.17 95.49,256.63 96.06,257.14 96.64,257.68 97.22,258.26 97.79,258.89 98.37,259.57 98.94,260.30 99.52,261.09 100.10,261.93 100.67,262.83 101.25,263.80 101.82,264.83 102.40,265.93 102.98,267.09 103.55,268.33 104.13,269.64 104.70,271.02 105.28,272.48 105.86,274.01 106.43,275.61 107.01,277.27 107.58,279.01 108.16,280.81 108.74,282.67 109.31,284.58 109.89,286.55 110.46,288.55 111.04,290.60 111.62,292.67 112.19,294.76 112.77,296.87 113.34,298.98 113.92,301.08 114.50,303.18 115.07,305.25 115.65,307.29 116.22,309.30 116.80,311.26 117.38,313.18 117.95,315.04 118.53,316.84 119.10,318.57 119.68,320.24 120.26,321.84 120.83,323.37 121.41,324.82 121.98,326.20 122.56,327.51 123.14,328.75 123.71,329.92 124.29,331.02 124.86,332.05 125.44,333.01 126.02,333.92 126.59,334.76 127.17,335.54 127.74,336.27 128.32,336.95 128.90,337.58 129.47,338.17 130.05,338.71 130.62,339.21 131.20,339.67 131.78,340.10 132.35,340.50 132.93,340.86 133.50,341.19 134.08,341.50 134.66,341.79 135.23,342.05 135.81,342.29 136.38,342.51 136.96,342.71 137.54,342.89 138.11,343.06 138.69,343.22 139.26,343.36 139.84,343.50 140.42,343.62 140.99,343.73 141.57,343.83 142.14,343.92 142.72,344.01 143.30,344.08 143.87,344.15 144.45,344.22 145.02,344.28 145.60,344.33 146.18,344.38 146.75,344.43 147.33,344.47 147.90,344.51 148.48,344.54 149.06,344.58 149.63,344.61 150.21,344.63 150.78,344.66 151.36,344.68 151.94,344.70 152.51,344.72 153.09,344.74 153.66,344.75 154.24,344.77 154.82,344.78 155.39,344.79 155.97,344.80 156.54,344.81 157.12,344.82 157.70,344.83 158.27,344.84 158.85,344.84 159.42,344.85 160.00,344.86" fill="none" stroke="#3eaee0" stroke-width="1"/>
<circle cx="44.80" cy="251.89" r="2.2" fill="#3eaee0" stroke="#2a8ec0" stroke-width="0.5"/>
<circle cx="56.32" cy="256.23" r="2.2" fill="#3eaee0" stroke="#2a8ec0" stroke-width="0.5"/>
<circle cx="73.60" cy="252.37" r="2.2" fill="#3eaee0" stroke="#2a8ec0" stroke-width="0.5"/>
<circle cx="108.16" cy="281.78" r="2.2" fill="#3eaee0" stroke="#2a8ec0" stroke-width="0.5"/>
<circle cx="125.44" cy="328.24" r="2.2" fill="#3eaee0" stroke="#2a8ec0" stroke-width="0.5"/>
<circle cx="142.72" cy="341.25" r="2.2" fill="#3eaee0" stroke="#2a8ec0" stroke-width="0.5"/>
<circle cx="44.80" cy="249.00" r="2.2" fill="#3f9f3a" stroke="#2a7a2a" stroke-width="0.5"/>
<circle cx="56.32" cy="261.05" r="2.2" fill="#3f9f3a" stroke="#2a7a2a" stroke-width="0.5"/>
<circle cx="73.60" cy="257.00" r="2.2" fill="#3f9f3a" stroke="#2a7a2a" stroke-width="0.5"/>
<circle cx="108.16" cy="285.82" r="2.2" fill="#3f9f3a" stroke="#2a7a2a" stroke-width="0.5"/>
<circle cx="125.44" cy="333.74" r="2.2" fill="#3f9f3a" stroke="#2a7a2a" stroke-width="0.5"/>
<circle cx="142.72" cy="344.05" r="2.2" fill="#3f9f3a" stroke="#2a7a2a" stroke-width="0.5"/>
<circle cx="44.80" cy="252.47" r="2.2" fill="#3d4257" stroke="#2a2e3c" stroke-width="0.5"/>
<circle cx="56.32" cy="254.21" r="2.2" fill="#3d4257" stroke="#2a2e3c" stroke-width="0.5"/>
<circle cx="73.60" cy="263.17" r="2.2" fill="#3d4257" stroke="#2a2e3c" stroke-width="0.5"/>
<circle cx="90.88" cy="249.48" r="2.2" fill="#3d4257" stroke="#2a2e3c" stroke-width="0.5"/>
<circle cx="108.16" cy="254.98" r="2.2" fill="#3d4257" stroke="#2a2e3c" stroke-width="0.5"/>
<circle cx="125.44" cy="261.05" r="2.2" fill="#3d4257" stroke="#2a2e3c" stroke-width="0.5"/>
<circle cx="142.72" cy="298.55" r="2.2" fill="#3d4257" stroke="#2a2e3c" stroke-width="0.5"/>
<circle cx="160.00" cy="345.11" r="2.2" fill="#3d4257" stroke="#2a2e3c" stroke-width="0.5"/>
<line x1="149.20" y1="236.50" x2="161.90" y2="236.50" stroke="#3d4257" stroke-width="1" stroke-opacity="0.7"/>
<circle cx="155.80" cy="236.50" r="2.1" fill="#3d4257" stroke="#2a2e3c" stroke-width="0.4"/>
<text x="165.20" y="239.10" font-size="7.4" textLength="77.7" lengthAdjust="spacingAndGlyphs">sgCtrl: IC<tspan font-size="5" dy="1.4">50</tspan><tspan dy="-1.4"> = 0.489nM</tspan></text>
<line x1="149.20" y1="248.05" x2="161.90" y2="248.05" stroke="#3f9f3a" stroke-width="1" stroke-opacity="0.7"/>
<circle cx="155.80" cy="248.05" r="2.1" fill="#3f9f3a" stroke="#2a7a2a" stroke-width="0.4"/>
<text x="165.20" y="250.65" font-size="7.4" textLength="96.3" lengthAdjust="spacingAndGlyphs">sgHerc1#1: IC<tspan font-size="5" dy="1.4">50</tspan><tspan dy="-1.4"> = 0.139nM</tspan></text>
<line x1="149.20" y1="259.60" x2="161.90" y2="259.60" stroke="#3eaee0" stroke-width="1" stroke-opacity="0.7"/>
<circle cx="155.80" cy="259.60" r="2.1" fill="#3eaee0" stroke="#2a8ec0" stroke-width="0.4"/>
<text x="165.20" y="262.20" font-size="7.4" textLength="96.1" lengthAdjust="spacingAndGlyphs">sgHerc1#2: IC<tspan font-size="5" dy="1.4">50</tspan><tspan dy="-1.4"> = 0.157nM</tspan></text>
<text x="7.00" y="400.00" font-size="10" font-weight="bold" fill="#000" stroke="#000" stroke-width="0.3">G</text>
<text x="100.80" y="398.30" font-size="9.4" text-anchor="middle" textLength="74.00" lengthAdjust="spacingAndGlyphs">CTG assay - Ara-C</text>
<text x="100.80" y="408.00" font-size="8.2" text-anchor="middle" textLength="30.30" lengthAdjust="spacingAndGlyphs">HM cells</text>
<line x1="39.00" y1="413.30" x2="39.00" y2="537.40" stroke="#1c1c1c" stroke-width="1.3"/>
<line x1="37.50" y1="536.80" x2="162.00" y2="536.80" stroke="#1c1c1c" stroke-width="1.3"/>
<line x1="36.30" y1="536.80" x2="39.00" y2="536.80" stroke="#1c1c1c" stroke-width="0.9"/>
<text x="33.00" y="538.80" font-size="7.6" class="h" text-anchor="end">0</text>
<line x1="36.30" y1="512.70" x2="39.00" y2="512.70" stroke="#1c1c1c" stroke-width="0.9"/>
<text x="33.00" y="514.70" font-size="7.6" class="h" text-anchor="end">25</text>
<line x1="36.30" y1="488.60" x2="39.00" y2="488.60" stroke="#1c1c1c" stroke-width="0.9"/>
<text x="33.00" y="490.60" font-size="7.6" class="h" text-anchor="end">50</text>
<line x1="36.30" y1="464.50" x2="39.00" y2="464.50" stroke="#1c1c1c" stroke-width="0.9"/>
<text x="33.00" y="466.50" font-size="7.6" class="h" text-anchor="end">75</text>
<line x1="36.30" y1="440.40" x2="39.00" y2="440.40" stroke="#1c1c1c" stroke-width="0.9"/>
<text x="33.00" y="442.40" font-size="7.6" class="h" text-anchor="end">100</text>
<line x1="36.30" y1="416.30" x2="39.00" y2="416.30" stroke="#1c1c1c" stroke-width="0.9"/>
<text x="33.00" y="418.30" font-size="7.6" class="h" text-anchor="end">125</text>
<line x1="44.80" y1="536.80" x2="44.80" y2="539.80" stroke="#1c1c1c" stroke-width="0.9"/>
<text x="44.80" y="549.70" font-size="7.5" class="h" text-anchor="middle">−2.0</text>
<line x1="73.60" y1="536.80" x2="73.60" y2="539.80" stroke="#1c1c1c" stroke-width="0.9"/>
<text x="73.60" y="549.70" font-size="7.5" class="h" text-anchor="middle">−1.5</text>
<line x1="102.40" y1="536.80" x2="102.40" y2="539.80" stroke="#1c1c1c" stroke-width="0.9"/>
<text x="102.40" y="549.70" font-size="7.5" class="h" text-anchor="middle">−1.0</text>
<line x1="131.20" y1="536.80" x2="131.20" y2="539.80" stroke="#1c1c1c" stroke-width="0.9"/>
<text x="131.20" y="549.70" font-size="7.5" class="h" text-anchor="middle">−0.5</text>
<line x1="160.00" y1="536.80" x2="160.00" y2="539.80" stroke="#1c1c1c" stroke-width="0.9"/>
<text x="160.00" y="549.70" font-size="7.5" class="h" text-anchor="middle">0</text>
<text x="14.60" y="475.30" font-size="8.4" class="h" text-anchor="middle" textLength="75.00" lengthAdjust="spacingAndGlyphs" transform="rotate(-90 14.60 475.30)">Relative luminescence (%)</text>
<text class="h" x="75.00" y="561.20" font-size="8.4" textLength="52" lengthAdjust="spacingAndGlyphs">Log<tspan font-size="5.8" dy="1.5">2</tspan><tspan dy="-1.5"> (Ara-C[μM])</tspan></text>
<line x1="39.00" y1="488.60" x2="160.00" y2="488.60" stroke="#c23a48" stroke-width="0.9" stroke-dasharray="2.2,1.6"/>
<polyline points="44.80,443.72 45.38,443.72 45.95,443.73 46.53,443.73 47.10,443.73 47.68,443.74 48.26,443.74 48.83,443.75 49.41,443.75 49.98,443.76 50.56,443.76 51.14,443.77 51.71,443.78 52.29,443.78 52.86,443.79 53.44,443.80 54.02,443.81 54.59,443.82 55.17,443.83 55.74,443.84 56.32,443.86 56.90,443.87 57.47,443.89 58.05,443.90 58.62,443.92 59.20,443.94 59.78,443.96 60.35,443.98 60.93,444.00 61.50,444.03 62.08,444.05 62.66,444.08 63.23,444.11 63.81,444.14 64.38,444.18 64.96,444.22 65.54,444.26 66.11,444.30 66.69,444.35 67.26,444.40 67.84,444.46 68.42,444.52 68.99,444.58 69.57,444.65 70.14,444.72 70.72,444.80 71.30,444.88 71.87,444.98 72.45,445.07 73.02,445.18 73.60,445.29 74.18,445.41 74.75,445.54 75.33,445.68 75.90,445.83 76.48,445.99 77.06,446.16 77.63,446.35 78.21,446.55 78.78,446.76 79.36,446.99 79.94,447.23 80.51,447.49 81.09,447.77 81.66,448.07 82.24,448.39 82.82,448.73 83.39,449.09 83.97,449.48 84.54,449.89 85.12,450.33 85.70,450.80 86.27,451.30 86.85,451.84 87.42,452.40 88.00,453.00 88.58,453.64 89.15,454.31 89.73,455.03 90.30,455.78 90.88,456.58 91.46,457.42 92.03,458.31 92.61,459.24 93.18,460.22 93.76,461.24 94.34,462.32 94.91,463.44 95.49,464.61 96.06,465.83 96.64,467.10 97.22,468.42 97.79,469.78 98.37,471.18 98.94,472.63 99.52,474.12 100.10,475.65 100.67,477.22 101.25,478.81 101.82,480.44 102.40,482.09 102.98,483.76 103.55,485.45 104.13,487.16 104.70,488.87 105.28,490.58 105.86,492.30 106.43,494.00 107.01,495.70 107.58,497.39 108.16,499.05 108.74,500.69 109.31,502.31 109.89,503.89 110.46,505.44 111.04,506.96 111.62,508.43 112.19,509.86 112.77,511.25 113.34,512.59 113.92,513.89 114.50,515.14 115.07,516.34 115.65,517.49 116.22,518.60 116.80,519.65 117.38,520.66 117.95,521.62 118.53,522.53 119.10,523.40 119.68,524.22 120.26,525.00 120.83,525.74 121.41,526.44 121.98,527.10 122.56,527.72 123.14,528.31 123.71,528.86 124.29,529.38 124.86,529.87 125.44,530.32 126.02,530.75 126.59,531.16 127.17,531.54 127.74,531.89 128.32,532.22 128.90,532.53 129.47,532.82 130.05,533.09 130.62,533.35 131.20,533.58 131.78,533.80 132.35,534.01 132.93,534.20 133.50,534.38 134.08,534.55 134.66,534.71 135.23,534.85 135.81,534.99 136.38,535.11 136.96,535.23 137.54,535.34 138.11,535.44 138.69,535.54 139.26,535.63 139.84,535.71 140.42,535.79 140.99,535.86 141.57,535.92 142.14,535.99 142.72,536.04 143.30,536.10 143.87,536.15 144.45,536.19 145.02,536.24 145.60,536.27 146.18,536.31 146.75,536.35 147.33,536.38 147.90,536.41 148.48,536.44 149.06,536.46 149.63,536.49 150.21,536.51 150.78,536.53 151.36,536.55 151.94,536.57 152.51,536.58 153.09,536.60 153.66,536.61 154.24,536.63 154.82,536.64 155.39,536.65 155.97,536.66 156.54,536.67 157.12,536.68 157.70,536.69 158.27,536.70 158.85,536.70 159.42,536.71 160.00,536.72" fill="none" stroke="#3d4257" stroke-width="1"/>
<polyline points="44.80,444.36 45.38,444.41 45.95,444.46 46.53,444.52 47.10,444.58 47.68,444.64 48.26,444.71 48.83,444.78 49.41,444.86 49.98,444.94 50.56,445.03 51.14,445.12 51.71,445.21 52.29,445.31 52.86,445.42 53.44,445.53 54.02,445.65 54.59,445.77 55.17,445.90 55.74,446.04 56.32,446.19 56.90,446.35 57.47,446.51 58.05,446.68 58.62,446.86 59.20,447.06 59.78,447.26 60.35,447.47 60.93,447.70 61.50,447.94 62.08,448.19 62.66,448.45 63.23,448.73 63.81,449.02 64.38,449.33 64.96,449.65 65.54,449.99 66.11,450.35 66.69,450.73 67.26,451.12 67.84,451.53 68.42,451.97 68.99,452.42 69.57,452.90 70.14,453.40 70.72,453.92 71.30,454.46 71.87,455.03 72.45,455.63 73.02,456.25 73.60,456.90 74.18,457.57 74.75,458.28 75.33,459.01 75.90,459.77 76.48,460.55 77.06,461.37 77.63,462.22 78.21,463.10 78.78,464.00 79.36,464.94 79.94,465.90 80.51,466.90 81.09,467.92 81.66,468.98 82.24,470.06 82.82,471.16 83.39,472.30 83.97,473.46 84.54,474.64 85.12,475.84 85.70,477.07 86.27,478.32 86.85,479.59 87.42,480.87 88.00,482.16 88.58,483.47 89.15,484.79 89.73,486.12 90.30,487.46 90.88,488.80 91.46,490.14 92.03,491.48 92.61,492.83 93.18,494.16 93.76,495.49 94.34,496.81 94.91,498.12 95.49,499.42 96.06,500.70 96.64,501.97 97.22,503.21 97.79,504.44 98.37,505.65 98.94,506.83 99.52,507.99 100.10,509.12 100.67,510.23 101.25,511.31 101.82,512.36 102.40,513.39 102.98,514.38 103.55,515.35 104.13,516.28 104.70,517.19 105.28,518.07 105.86,518.91 106.43,519.73 107.01,520.52 107.58,521.28 108.16,522.01 108.74,522.71 109.31,523.39 109.89,524.03 110.46,524.66 111.04,525.25 111.62,525.82 112.19,526.37 112.77,526.89 113.34,527.39 113.92,527.86 114.50,528.32 115.07,528.75 115.65,529.16 116.22,529.56 116.80,529.93 117.38,530.29 117.95,530.63 118.53,530.95 119.10,531.26 119.68,531.55 120.26,531.83 120.83,532.10 121.41,532.35 121.98,532.58 122.56,532.81 123.14,533.02 123.71,533.23 124.29,533.42 124.86,533.60 125.44,533.78 126.02,533.94 126.59,534.09 127.17,534.24 127.74,534.38 128.32,534.51 128.90,534.64 129.47,534.76 130.05,534.87 130.62,534.97 131.20,535.07 131.78,535.17 132.35,535.26 132.93,535.34 133.50,535.42 134.08,535.50 134.66,535.57 135.23,535.64 135.81,535.70 136.38,535.76 136.96,535.82 137.54,535.88 138.11,535.93 138.69,535.98 139.26,536.02 139.84,536.06 140.42,536.11 140.99,536.14 141.57,536.18 142.14,536.21 142.72,536.25 143.30,536.28 143.87,536.31 144.45,536.33 145.02,536.36 145.60,536.39 146.18,536.41 146.75,536.43 147.33,536.45 147.90,536.47 148.48,536.49 149.06,536.51 149.63,536.52 150.21,536.54 150.78,536.55 151.36,536.57 151.94,536.58 152.51,536.59 153.09,536.60 153.66,536.61 154.24,536.62 154.82,536.63 155.39,536.64 155.97,536.65 156.54,536.66 157.12,536.67 157.70,536.68 158.27,536.68 158.85,536.69 159.42,536.70 160.00,536.70" fill="none" stroke="#3f9f3a" stroke-width="1"/>
<polyline points="44.80,445.01 45.38,445.05 45.95,445.10 46.53,445.15 47.10,445.20 47.68,445.25 48.26,445.31 48.83,445.37 49.41,445.44 49.98,445.51 50.56,445.58 51.14,445.66 51.71,445.74 52.29,445.83 52.86,445.92 53.44,446.02 54.02,446.12 54.59,446.23 55.17,446.34 55.74,446.46 56.32,446.59 56.90,446.72 57.47,446.86 58.05,447.01 58.62,447.17 59.20,447.34 59.78,447.52 60.35,447.70 60.93,447.90 61.50,448.11 62.08,448.32 62.66,448.55 63.23,448.80 63.81,449.05 64.38,449.32 64.96,449.60 65.54,449.90 66.11,450.21 66.69,450.54 67.26,450.89 67.84,451.25 68.42,451.63 68.99,452.03 69.57,452.45 70.14,452.89 70.72,453.35 71.30,453.84 71.87,454.34 72.45,454.87 73.02,455.42 73.60,456.00 74.18,456.61 74.75,457.23 75.33,457.89 75.90,458.57 76.48,459.28 77.06,460.02 77.63,460.79 78.21,461.59 78.78,462.41 79.36,463.27 79.94,464.15 80.51,465.06 81.09,466.01 81.66,466.98 82.24,467.98 82.82,469.01 83.39,470.07 83.97,471.15 84.54,472.26 85.12,473.40 85.70,474.56 86.27,475.75 86.85,476.95 87.42,478.18 88.00,479.43 88.58,480.69 89.15,481.97 89.73,483.26 90.30,484.57 90.88,485.88 91.46,487.20 92.03,488.53 92.61,489.86 93.18,491.19 93.76,492.52 94.34,493.85 94.91,495.17 95.49,496.49 96.06,497.79 96.64,499.09 97.22,500.36 97.79,501.63 98.37,502.87 98.94,504.10 99.52,505.31 100.10,506.49 100.67,507.65 101.25,508.79 101.82,509.90 102.40,510.99 102.98,512.05 103.55,513.07 104.13,514.08 104.70,515.05 105.28,515.99 105.86,516.91 106.43,517.79 107.01,518.64 107.58,519.47 108.16,520.27 108.74,521.03 109.31,521.77 109.89,522.48 110.46,523.17 111.04,523.82 111.62,524.45 112.19,525.05 112.77,525.63 113.34,526.18 113.92,526.71 114.50,527.22 115.07,527.70 115.65,528.16 116.22,528.60 116.80,529.02 117.38,529.42 117.95,529.81 118.53,530.17 119.10,530.52 119.68,530.84 120.26,531.16 120.83,531.45 121.41,531.74 121.98,532.01 122.56,532.26 123.14,532.50 123.71,532.73 124.29,532.95 124.86,533.16 125.44,533.35 126.02,533.54 126.59,533.72 127.17,533.88 127.74,534.04 128.32,534.19 128.90,534.33 129.47,534.47 130.05,534.60 130.62,534.72 131.20,534.83 131.78,534.94 132.35,535.04 132.93,535.14 133.50,535.23 134.08,535.31 134.66,535.40 135.23,535.47 135.81,535.55 136.38,535.62 136.96,535.68 137.54,535.74 138.11,535.80 138.69,535.86 139.26,535.91 139.84,535.96 140.42,536.01 140.99,536.05 141.57,536.09 142.14,536.13 142.72,536.17 143.30,536.20 143.87,536.24 144.45,536.27 145.02,536.30 145.60,536.33 146.18,536.35 146.75,536.38 147.33,536.40 147.90,536.42 148.48,536.44 149.06,536.46 149.63,536.48 150.21,536.50 150.78,536.52 151.36,536.53 151.94,536.55 152.51,536.56 153.09,536.57 153.66,536.59 154.24,536.60 154.82,536.61 155.39,536.62 155.97,536.63 156.54,536.64 157.12,536.65 157.70,536.66 158.27,536.67 158.85,536.67 159.42,536.68 160.00,536.69" fill="none" stroke="#3eaee0" stroke-width="1"/>
<circle cx="44.80" cy="440.40" r="2.2" fill="#3d4257" stroke="#2a2e3c" stroke-width="0.5"/>
<circle cx="56.32" cy="444.26" r="2.2" fill="#3d4257" stroke="#2a2e3c" stroke-width="0.5"/>
<circle cx="73.60" cy="443.68" r="2.2" fill="#3d4257" stroke="#2a2e3c" stroke-width="0.5"/>
<circle cx="90.88" cy="460.16" r="2.2" fill="#3d4257" stroke="#2a2e3c" stroke-width="0.5"/>
<circle cx="108.16" cy="496.31" r="2.2" fill="#3d4257" stroke="#2a2e3c" stroke-width="0.5"/>
<circle cx="125.44" cy="531.31" r="2.2" fill="#3d4257" stroke="#2a2e3c" stroke-width="0.5"/>
<circle cx="142.72" cy="536.32" r="2.2" fill="#3d4257" stroke="#2a2e3c" stroke-width="0.5"/>
<circle cx="73.60" cy="459.68" r="2.2" fill="#3f9f3a" stroke="#2a7a2a" stroke-width="0.5"/>
<circle cx="90.88" cy="485.71" r="2.2" fill="#3f9f3a" stroke="#2a7a2a" stroke-width="0.5"/>
<circle cx="108.16" cy="520.12" r="2.2" fill="#3f9f3a" stroke="#2a7a2a" stroke-width="0.5"/>
<circle cx="125.44" cy="534.29" r="2.2" fill="#3f9f3a" stroke="#2a7a2a" stroke-width="0.5"/>
<circle cx="142.72" cy="536.80" r="2.2" fill="#3f9f3a" stroke="#2a7a2a" stroke-width="0.5"/>
<circle cx="56.32" cy="451.00" r="2.2" fill="#3eaee0" stroke="#2a8ec0" stroke-width="0.5"/>
<circle cx="90.88" cy="483.30" r="2.2" fill="#3eaee0" stroke="#2a8ec0" stroke-width="0.5"/>
<circle cx="108.16" cy="514.63" r="2.2" fill="#3eaee0" stroke="#2a8ec0" stroke-width="0.5"/>
<circle cx="125.44" cy="533.72" r="2.2" fill="#3eaee0" stroke="#2a8ec0" stroke-width="0.5"/>
<line x1="136.80" y1="428.60" x2="149.50" y2="428.60" stroke="#3d4257" stroke-width="1" stroke-opacity="0.7"/>
<circle cx="143.40" cy="428.60" r="2.1" fill="#3d4257" stroke="#2a2e3c" stroke-width="0.4"/>
<text x="152.80" y="431.20" font-size="7.4" textLength="78.4" lengthAdjust="spacingAndGlyphs">sgCtrl: IC<tspan font-size="5" dy="1.4">50</tspan><tspan dy="-1.4"> = 0.108μM</tspan></text>
<line x1="136.80" y1="440.10" x2="149.50" y2="440.10" stroke="#3f9f3a" stroke-width="1" stroke-opacity="0.7"/>
<circle cx="143.40" cy="440.10" r="2.1" fill="#3f9f3a" stroke="#2a7a2a" stroke-width="0.4"/>
<text x="152.80" y="442.70" font-size="7.4" textLength="71" lengthAdjust="spacingAndGlyphs">sg1: IC<tspan font-size="5" dy="1.4">50</tspan><tspan dy="-1.4"> = 0.065μM</tspan></text>
<line x1="136.80" y1="451.60" x2="149.50" y2="451.60" stroke="#3eaee0" stroke-width="1" stroke-opacity="0.7"/>
<circle cx="143.40" cy="451.60" r="2.1" fill="#3eaee0" stroke="#2a8ec0" stroke-width="0.4"/>
<text x="152.80" y="454.20" font-size="7.4" textLength="71" lengthAdjust="spacingAndGlyphs">sg2: IC<tspan font-size="5" dy="1.4">50</tspan><tspan dy="-1.4"> = 0.066μM</tspan></text>
<text x="399.60" y="17.00" font-size="10" font-weight="bold" fill="#000" stroke="#000" stroke-width="0.3">C</text>
<text x="473.40" y="15.30" font-size="9.4" text-anchor="middle" textLength="74.00" lengthAdjust="spacingAndGlyphs">CTG assay - Ara-C</text>
<text x="472.80" y="24.90" font-size="8.2" text-anchor="middle" textLength="29.60" lengthAdjust="spacingAndGlyphs">MA cells</text>
<line x1="432.70" y1="30.20" x2="432.70" y2="154.10" stroke="#1c1c1c" stroke-width="1.3"/>
<line x1="432.10" y1="153.50" x2="513.40" y2="153.50" stroke="#1c1c1c" stroke-width="1.3"/>
<line x1="430.00" y1="153.50" x2="432.70" y2="153.50" stroke="#1c1c1c" stroke-width="0.9"/>
<text x="428.00" y="155.60" font-size="8.2" class="h" text-anchor="end">0</text>
<line x1="430.00" y1="123.30" x2="432.70" y2="123.30" stroke="#1c1c1c" stroke-width="0.9"/>
<text x="428.00" y="125.40" font-size="8.2" class="h" text-anchor="end">0.05</text>
<line x1="430.00" y1="93.10" x2="432.70" y2="93.10" stroke="#1c1c1c" stroke-width="0.9"/>
<text x="428.00" y="95.20" font-size="8.2" class="h" text-anchor="end">0.10</text>
<line x1="430.00" y1="62.90" x2="432.70" y2="62.90" stroke="#1c1c1c" stroke-width="0.9"/>
<text x="428.00" y="65.00" font-size="8.2" class="h" text-anchor="end">0.15</text>
<line x1="430.00" y1="32.70" x2="432.70" y2="32.70" stroke="#1c1c1c" stroke-width="0.9"/>
<text x="428.00" y="34.80" font-size="8.2" class="h" text-anchor="end">0.20</text>
<rect x="441.25" y="80.00" width="15.50" height="73.50" fill="#9fa1ad"/>
<line x1="449.50" y1="80.00" x2="449.50" y2="70.50" stroke="#222" stroke-width="1.0"/>
<line x1="445.50" y1="70.50" x2="453.50" y2="70.50" stroke="#222" stroke-width="1.0"/>
<line x1="449.00" y1="153.50" x2="449.00" y2="156.50" stroke="#1c1c1c" stroke-width="0.9"/>
<circle cx="449.00" cy="40.00" r="2.0" fill="#50566b" stroke="#1f2333" stroke-width="0.9"/>
<circle cx="449.00" cy="59.40" r="2.0" fill="#50566b" stroke="#1f2333" stroke-width="0.9"/>
<circle cx="449.00" cy="86.00" r="2.0" fill="#50566b" stroke="#1f2333" stroke-width="0.9"/>
<circle cx="445.60" cy="94.00" r="2.0" fill="#50566b" stroke="#1f2333" stroke-width="0.9"/>
<circle cx="453.00" cy="95.00" r="2.0" fill="#50566b" stroke="#1f2333" stroke-width="0.9"/>
<circle cx="449.00" cy="107.00" r="2.0" fill="#50566b" stroke="#1f2333" stroke-width="0.9"/>
<rect x="465.25" y="122.80" width="15.50" height="30.70" fill="#b5d99f"/>
<line x1="473.50" y1="122.80" x2="473.50" y2="118.50" stroke="#222" stroke-width="1.0"/>
<line x1="469.50" y1="118.50" x2="477.50" y2="118.50" stroke="#222" stroke-width="1.0"/>
<line x1="473.00" y1="153.50" x2="473.00" y2="156.50" stroke="#1c1c1c" stroke-width="0.9"/>
<circle cx="470.00" cy="113.60" r="1.8" fill="#3f8f3f" stroke="#17451c" stroke-width="1.0"/>
<circle cx="476.70" cy="114.80" r="1.8" fill="#3f8f3f" stroke="#17451c" stroke-width="1.0"/>
<circle cx="473.00" cy="120.00" r="1.8" fill="#3f8f3f" stroke="#17451c" stroke-width="1.0"/>
<circle cx="473.00" cy="127.60" r="1.8" fill="#3f8f3f" stroke="#17451c" stroke-width="1.0"/>
<circle cx="473.00" cy="138.60" r="1.8" fill="#3f8f3f" stroke="#17451c" stroke-width="1.0"/>
<rect x="489.65" y="115.90" width="15.50" height="37.60" fill="#b3d4f0"/>
<line x1="497.50" y1="115.90" x2="497.50" y2="112.50" stroke="#222" stroke-width="1.0"/>
<line x1="493.50" y1="112.50" x2="501.50" y2="112.50" stroke="#222" stroke-width="1.0"/>
<line x1="497.40" y1="153.50" x2="497.40" y2="156.50" stroke="#1c1c1c" stroke-width="0.9"/>
<circle cx="490.60" cy="110.60" r="1.8" fill="#3a8cbd" stroke="#0f3d5c" stroke-width="1.0"/>
<circle cx="497.30" cy="113.60" r="1.8" fill="#3a8cbd" stroke="#0f3d5c" stroke-width="1.0"/>
<circle cx="504.30" cy="112.70" r="1.8" fill="#3a8cbd" stroke="#0f3d5c" stroke-width="1.0"/>
<circle cx="497.30" cy="126.70" r="1.8" fill="#3a8cbd" stroke="#0f3d5c" stroke-width="1.0"/>
<text x="449.00" y="166.00" font-size="7.4" class="h" text-anchor="middle">sgCtrl</text>
<text x="473.00" y="166.00" font-size="7.4" class="h" text-anchor="middle">#1</text>
<text x="497.40" y="166.00" font-size="7.4" class="h" text-anchor="middle">#2</text>
<line x1="464.80" y1="171.00" x2="505.20" y2="171.00" stroke="#1c1c1c" stroke-width="1"/>
<text x="484.50" y="181.10" font-size="8.2" class="h" text-anchor="middle" textLength="22.00" lengthAdjust="spacingAndGlyphs">sgHerc1</text>
<text x="473.00" y="110.90" font-size="7.5" text-anchor="middle" font-weight="bold" stroke="#231f20" stroke-width="0.1">**</text>
<text x="497.40" y="107.00" font-size="7.5" text-anchor="middle" font-weight="bold" stroke="#231f20" stroke-width="0.1">*</text>
<text class="h" x="407.2" y="92.2" font-size="8.3" text-anchor="middle" textLength="47.5" lengthAdjust="spacingAndGlyphs" transform="rotate(-90 407.2 92.2)"><tspan font-style="italic">Ara-C</tspan> IC<tspan font-size="5" dy="1.4">50</tspan><tspan dy="-1.4"> (μM)</tspan></text>
<text x="279.60" y="208.00" font-size="10" font-weight="bold" fill="#000" stroke="#000" stroke-width="0.3">E</text>
<text x="348.60" y="206.40" font-size="9.4" text-anchor="middle" textLength="70.00" lengthAdjust="spacingAndGlyphs">CTG assay - Gem</text>
<text x="348.40" y="216.20" font-size="8.2" text-anchor="middle" textLength="29.60" lengthAdjust="spacingAndGlyphs">MA cells</text>
<line x1="308.30" y1="222.10" x2="308.30" y2="346.00" stroke="#1c1c1c" stroke-width="1.3"/>
<line x1="307.70" y1="345.40" x2="388.50" y2="345.40" stroke="#1c1c1c" stroke-width="1.3"/>
<line x1="305.60" y1="345.40" x2="308.30" y2="345.40" stroke="#1c1c1c" stroke-width="0.9"/>
<text x="302.20" y="347.50" font-size="7.4" class="h" text-anchor="end">0</text>
<line x1="305.60" y1="305.20" x2="308.30" y2="305.20" stroke="#1c1c1c" stroke-width="0.9"/>
<text x="302.20" y="307.30" font-size="7.4" class="h" text-anchor="end">0.2</text>
<line x1="305.60" y1="265.00" x2="308.30" y2="265.00" stroke="#1c1c1c" stroke-width="0.9"/>
<text x="302.20" y="267.10" font-size="7.4" class="h" text-anchor="end">0.4</text>
<line x1="305.60" y1="224.60" x2="308.30" y2="224.60" stroke="#1c1c1c" stroke-width="0.9"/>
<text x="302.20" y="226.70" font-size="7.4" class="h" text-anchor="end">0.6</text>
<rect x="317.05" y="300.40" width="15.50" height="45.00" fill="#9fa1ad"/>
<line x1="324.50" y1="300.40" x2="324.50" y2="290.50" stroke="#222" stroke-width="1.0"/>
<line x1="320.50" y1="290.50" x2="328.50" y2="290.50" stroke="#222" stroke-width="1.0"/>
<line x1="324.80" y1="345.40" x2="324.80" y2="348.40" stroke="#1c1c1c" stroke-width="0.9"/>
<circle cx="324.80" cy="247.10" r="2.0" fill="#50566b" stroke="#1f2333" stroke-width="0.9"/>
<circle cx="324.80" cy="273.00" r="2.0" fill="#50566b" stroke="#1f2333" stroke-width="0.9"/>
<circle cx="324.80" cy="299.90" r="2.0" fill="#50566b" stroke="#1f2333" stroke-width="0.9"/>
<circle cx="324.80" cy="303.70" r="2.0" fill="#50566b" stroke="#1f2333" stroke-width="0.9"/>
<circle cx="324.80" cy="311.00" r="2.0" fill="#50566b" stroke="#1f2333" stroke-width="0.9"/>
<circle cx="324.80" cy="317.30" r="2.0" fill="#50566b" stroke="#1f2333" stroke-width="0.9"/>
<circle cx="321.00" cy="325.40" r="2.0" fill="#50566b" stroke="#1f2333" stroke-width="0.9"/>
<circle cx="328.20" cy="323.10" r="2.0" fill="#50566b" stroke="#1f2333" stroke-width="0.9"/>
<rect x="341.05" y="327.30" width="15.50" height="18.10" fill="#b5d99f"/>
<line x1="348.50" y1="327.30" x2="348.50" y2="323.50" stroke="#222" stroke-width="1.0"/>
<line x1="344.50" y1="323.50" x2="352.50" y2="323.50" stroke="#222" stroke-width="1.0"/>
<line x1="348.80" y1="345.40" x2="348.80" y2="348.40" stroke="#1c1c1c" stroke-width="0.9"/>
<circle cx="348.80" cy="313.50" r="1.8" fill="#3f8f3f" stroke="#17451c" stroke-width="1.0"/>
<circle cx="342.20" cy="320.60" r="1.8" fill="#3f8f3f" stroke="#17451c" stroke-width="1.0"/>
<circle cx="348.80" cy="322.00" r="1.8" fill="#3f8f3f" stroke="#17451c" stroke-width="1.0"/>
<circle cx="354.70" cy="329.60" r="1.8" fill="#3f8f3f" stroke="#17451c" stroke-width="1.0"/>
<circle cx="342.60" cy="335.00" r="1.8" fill="#3f8f3f" stroke="#17451c" stroke-width="1.0"/>
<circle cx="348.80" cy="332.70" r="1.8" fill="#3f8f3f" stroke="#17451c" stroke-width="1.0"/>
<circle cx="354.70" cy="333.90" r="1.8" fill="#3f8f3f" stroke="#17451c" stroke-width="1.0"/>
<rect x="365.05" y="327.00" width="15.50" height="18.40" fill="#b3d4f0"/>
<line x1="372.50" y1="327.00" x2="372.50" y2="321.50" stroke="#222" stroke-width="1.0"/>
<line x1="368.50" y1="321.50" x2="376.50" y2="321.50" stroke="#222" stroke-width="1.0"/>
<line x1="372.80" y1="345.40" x2="372.80" y2="348.40" stroke="#1c1c1c" stroke-width="0.9"/>
<circle cx="372.80" cy="310.00" r="1.8" fill="#3a8cbd" stroke="#0f3d5c" stroke-width="1.0"/>
<circle cx="372.80" cy="317.30" r="1.8" fill="#3a8cbd" stroke="#0f3d5c" stroke-width="1.0"/>
<circle cx="372.80" cy="329.60" r="1.8" fill="#3a8cbd" stroke="#0f3d5c" stroke-width="1.0"/>
<circle cx="376.60" cy="336.50" r="1.8" fill="#3a8cbd" stroke="#0f3d5c" stroke-width="1.0"/>
<circle cx="369.10" cy="338.80" r="1.8" fill="#3a8cbd" stroke="#0f3d5c" stroke-width="1.0"/>
<text x="324.80" y="358.00" font-size="7.4" class="h" text-anchor="middle">sgCtrl</text>
<text x="348.80" y="358.00" font-size="7.4" class="h" text-anchor="middle">#1</text>
<text x="372.80" y="358.00" font-size="7.4" class="h" text-anchor="middle">#2</text>
<line x1="341.30" y1="362.60" x2="381.10" y2="362.60" stroke="#1c1c1c" stroke-width="1"/>
<text x="361.30" y="373.40" font-size="8.2" class="h" text-anchor="middle" textLength="22.20" lengthAdjust="spacingAndGlyphs">sgHerc1</text>
<text x="348.80" y="310.00" font-size="7.5" text-anchor="middle" font-weight="bold" stroke="#231f20" stroke-width="0.1">*</text>
<text x="372.80" y="305.40" font-size="7.5" text-anchor="middle" font-weight="bold" stroke="#231f20" stroke-width="0.1">*</text>
<text class="h" x="285.4" y="283.3" font-size="8.0" text-anchor="middle" textLength="62.8" lengthAdjust="spacingAndGlyphs" transform="rotate(-90 285.4 283.3)">Gemcitabine IC<tspan font-size="5" dy="1.4">50</tspan><tspan dy="-1.4"> (nM)</tspan></text>
<text x="404.00" y="208.00" font-size="10" font-weight="bold" fill="#000" stroke="#000" stroke-width="0.3">F</text>
<text x="473.30" y="206.40" font-size="9.4" text-anchor="middle" textLength="63.30" lengthAdjust="spacingAndGlyphs">CTG assay - Flu</text>
<text x="473.20" y="216.20" font-size="8.2" text-anchor="middle" textLength="29.60" lengthAdjust="spacingAndGlyphs">MA cells</text>
<line x1="432.50" y1="222.10" x2="432.50" y2="346.00" stroke="#1c1c1c" stroke-width="1.3"/>
<line x1="431.90" y1="345.40" x2="512.70" y2="345.40" stroke="#1c1c1c" stroke-width="1.3"/>
<line x1="429.80" y1="345.40" x2="432.50" y2="345.40" stroke="#1c1c1c" stroke-width="0.9"/>
<text x="427.30" y="347.50" font-size="7.4" class="h" text-anchor="end">0</text>
<line x1="429.80" y1="305.20" x2="432.50" y2="305.20" stroke="#1c1c1c" stroke-width="0.9"/>
<text x="427.30" y="307.30" font-size="7.4" class="h" text-anchor="end">0.2</text>
<line x1="429.80" y1="265.00" x2="432.50" y2="265.00" stroke="#1c1c1c" stroke-width="0.9"/>
<text x="427.30" y="267.10" font-size="7.4" class="h" text-anchor="end">0.4</text>
<line x1="429.80" y1="224.60" x2="432.50" y2="224.60" stroke="#1c1c1c" stroke-width="0.9"/>
<text x="427.30" y="226.70" font-size="7.4" class="h" text-anchor="end">0.6</text>
<rect x="441.55" y="272.00" width="15.50" height="73.40" fill="#9fa1ad"/>
<line x1="449.50" y1="272.00" x2="449.50" y2="268.50" stroke="#222" stroke-width="1.0"/>
<line x1="445.50" y1="268.50" x2="453.50" y2="268.50" stroke="#222" stroke-width="1.0"/>
<line x1="449.30" y1="345.40" x2="449.30" y2="348.40" stroke="#1c1c1c" stroke-width="0.9"/>
<circle cx="449.30" cy="258.80" r="2.0" fill="#50566b" stroke="#1f2333" stroke-width="0.9"/>
<circle cx="449.30" cy="264.70" r="2.0" fill="#50566b" stroke="#1f2333" stroke-width="0.9"/>
<circle cx="449.30" cy="272.60" r="2.0" fill="#50566b" stroke="#1f2333" stroke-width="0.9"/>
<circle cx="453.40" cy="277.20" r="2.0" fill="#50566b" stroke="#1f2333" stroke-width="0.9"/>
<circle cx="445.70" cy="277.60" r="2.0" fill="#50566b" stroke="#1f2333" stroke-width="0.9"/>
<circle cx="445.70" cy="281.40" r="2.0" fill="#50566b" stroke="#1f2333" stroke-width="0.9"/>
<rect x="465.55" y="334.80" width="15.50" height="10.60" fill="#b5d99f"/>
<line x1="473.50" y1="334.80" x2="473.50" y2="328.50" stroke="#222" stroke-width="1.0"/>
<line x1="469.50" y1="328.50" x2="477.50" y2="328.50" stroke="#222" stroke-width="1.0"/>
<line x1="473.30" y1="345.40" x2="473.30" y2="348.40" stroke="#1c1c1c" stroke-width="0.9"/>
<circle cx="473.30" cy="310.30" r="1.8" fill="#3f8f3f" stroke="#17451c" stroke-width="1.0"/>
<circle cx="467.00" cy="339.00" r="1.8" fill="#3f8f3f" stroke="#17451c" stroke-width="1.0"/>
<circle cx="467.00" cy="342.00" r="1.8" fill="#3f8f3f" stroke="#17451c" stroke-width="1.0"/>
<circle cx="473.30" cy="340.60" r="1.8" fill="#3f8f3f" stroke="#17451c" stroke-width="1.0"/>
<circle cx="479.20" cy="341.70" r="1.8" fill="#3f8f3f" stroke="#17451c" stroke-width="1.0"/>
<rect x="489.65" y="325.30" width="15.50" height="20.10" fill="#b3d4f0"/>
<line x1="497.50" y1="325.30" x2="497.50" y2="320.50" stroke="#222" stroke-width="1.0"/>
<line x1="493.50" y1="320.50" x2="501.50" y2="320.50" stroke="#222" stroke-width="1.0"/>
<line x1="497.40" y1="345.40" x2="497.40" y2="348.40" stroke="#1c1c1c" stroke-width="0.9"/>
<circle cx="497.40" cy="307.00" r="1.8" fill="#3a8cbd" stroke="#0f3d5c" stroke-width="1.0"/>
<circle cx="490.70" cy="326.80" r="1.8" fill="#3a8cbd" stroke="#0f3d5c" stroke-width="1.0"/>
<circle cx="490.70" cy="331.00" r="1.8" fill="#3a8cbd" stroke="#0f3d5c" stroke-width="1.0"/>
<circle cx="497.40" cy="328.50" r="1.8" fill="#3a8cbd" stroke="#0f3d5c" stroke-width="1.0"/>
<circle cx="503.30" cy="329.50" r="1.8" fill="#3a8cbd" stroke="#0f3d5c" stroke-width="1.0"/>
<text x="449.30" y="357.50" font-size="7.4" class="h" text-anchor="middle">sgCtrl</text>
<text x="473.30" y="357.50" font-size="7.4" class="h" text-anchor="middle">#1</text>
<text x="497.40" y="357.50" font-size="7.4" class="h" text-anchor="middle">#2</text>
<line x1="466.20" y1="362.60" x2="506.60" y2="362.60" stroke="#1c1c1c" stroke-width="1"/>
<text x="486.10" y="373.40" font-size="8.2" class="h" text-anchor="middle" textLength="22.20" lengthAdjust="spacingAndGlyphs">sgHerc1</text>
<text x="473.30" y="305.10" font-size="7.5" text-anchor="middle" font-weight="bold" stroke="#231f20" stroke-width="0.1">***</text>
<text x="497.40" y="301.50" font-size="7.5" text-anchor="middle" font-weight="bold" stroke="#231f20" stroke-width="0.1">***</text>
<text class="h" x="410.5" y="283.3" font-size="8.0" text-anchor="middle" textLength="62.8" lengthAdjust="spacingAndGlyphs" transform="rotate(-90 410.5 283.3)">Fludarabine IC<tspan font-size="5" dy="1.4">50</tspan><tspan dy="-1.4"> (nM)</tspan></text>
<text x="248.70" y="399.80" font-size="10" font-weight="bold" fill="#000" stroke="#000" stroke-width="0.3">H</text>
<text x="322.50" y="398.50" font-size="9.4" text-anchor="middle" textLength="71.00" lengthAdjust="spacingAndGlyphs">CTG assay - Gem</text>
<text x="322.30" y="407.90" font-size="8.2" text-anchor="middle" textLength="30.60" lengthAdjust="spacingAndGlyphs">HM cells</text>
<line x1="282.30" y1="413.90" x2="282.30" y2="537.00" stroke="#1c1c1c" stroke-width="1.3"/>
<line x1="281.70" y1="536.40" x2="362.60" y2="536.40" stroke="#1c1c1c" stroke-width="1.3"/>
<line x1="279.60" y1="536.40" x2="282.30" y2="536.40" stroke="#1c1c1c" stroke-width="0.9"/>
<text x="275.80" y="538.50" font-size="7.6" class="h" text-anchor="end">0</text>
<line x1="279.60" y1="496.40" x2="282.30" y2="496.40" stroke="#1c1c1c" stroke-width="0.9"/>
<text x="275.80" y="498.50" font-size="7.6" class="h" text-anchor="end">0.05</text>
<line x1="279.60" y1="456.40" x2="282.30" y2="456.40" stroke="#1c1c1c" stroke-width="0.9"/>
<text x="275.80" y="458.50" font-size="7.6" class="h" text-anchor="end">0.10</text>
<line x1="279.60" y1="416.40" x2="282.30" y2="416.40" stroke="#1c1c1c" stroke-width="0.9"/>
<text x="275.80" y="418.50" font-size="7.6" class="h" text-anchor="end">0.15</text>
<rect x="290.55" y="461.60" width="15.30" height="74.80" fill="#9fa1ad"/>
<line x1="298.50" y1="461.60" x2="298.50" y2="453.50" stroke="#222" stroke-width="1.0"/>
<line x1="294.50" y1="453.50" x2="302.50" y2="453.50" stroke="#222" stroke-width="1.0"/>
<line x1="298.20" y1="536.40" x2="298.20" y2="539.40" stroke="#1c1c1c" stroke-width="0.9"/>
<circle cx="298.40" cy="447.40" r="2.0" fill="#50566b" stroke="#1f2333" stroke-width="0.9"/>
<circle cx="298.40" cy="461.00" r="2.0" fill="#50566b" stroke="#1f2333" stroke-width="0.9"/>
<circle cx="298.40" cy="476.00" r="2.0" fill="#50566b" stroke="#1f2333" stroke-width="0.9"/>
<rect x="314.65" y="488.00" width="15.30" height="48.40" fill="#b5d99f"/>
<line x1="322.50" y1="488.00" x2="322.50" y2="484.50" stroke="#222" stroke-width="1.0"/>
<line x1="318.50" y1="484.50" x2="326.50" y2="484.50" stroke="#222" stroke-width="1.0"/>
<line x1="322.30" y1="536.40" x2="322.30" y2="539.40" stroke="#1c1c1c" stroke-width="0.9"/>
<circle cx="319.00" cy="481.80" r="1.8" fill="#3f8f3f" stroke="#17451c" stroke-width="1.0"/>
<circle cx="326.20" cy="484.10" r="1.8" fill="#3f8f3f" stroke="#17451c" stroke-width="1.0"/>
<circle cx="322.70" cy="495.00" r="1.8" fill="#3f8f3f" stroke="#17451c" stroke-width="1.0"/>
<rect x="338.95" y="484.80" width="15.30" height="51.60" fill="#b3d4f0"/>
<line x1="346.50" y1="484.80" x2="346.50" y2="479.50" stroke="#222" stroke-width="1.0"/>
<line x1="342.50" y1="479.50" x2="350.50" y2="479.50" stroke="#222" stroke-width="1.0"/>
<line x1="346.60" y1="536.40" x2="346.60" y2="539.40" stroke="#1c1c1c" stroke-width="0.9"/>
<circle cx="346.40" cy="476.50" r="1.8" fill="#3a8cbd" stroke="#0f3d5c" stroke-width="1.0"/>
<circle cx="346.40" cy="483.40" r="1.8" fill="#3a8cbd" stroke="#0f3d5c" stroke-width="1.0"/>
<circle cx="346.40" cy="494.10" r="1.8" fill="#3a8cbd" stroke="#0f3d5c" stroke-width="1.0"/>
<text x="298.20" y="549.80" font-size="7.4" class="h" text-anchor="middle">sgCtrl</text>
<text x="322.30" y="549.80" font-size="7.4" class="h" text-anchor="middle">sg1</text>
<text x="346.60" y="549.80" font-size="7.4" class="h" text-anchor="middle">sg2</text>
<text x="322.70" y="477.50" font-size="7.5" text-anchor="middle" font-weight="bold" stroke="#231f20" stroke-width="0.1">*</text>
<text x="346.40" y="469.60" font-size="7.5" text-anchor="middle" font-weight="bold" fill="#5a2a40" stroke="#5a2a40" stroke-width="0.1">*</text>
<text class="h" x="254.3" y="474.7" font-size="7.8" text-anchor="middle" textLength="47.7" lengthAdjust="spacingAndGlyphs" transform="rotate(-90 254.3 474.7)"><tspan font-style="italic">Ara-C</tspan> IC<tspan font-size="5" dy="1.4">50</tspan><tspan dy="-1.4"> (μM)</tspan></text>
<text x="378.00" y="400.00" font-size="10" font-weight="bold" fill="#000" stroke="#000" stroke-width="0.3">I</text>
<text x="450.00" y="398.50" font-size="9.4" text-anchor="middle" textLength="42.00" lengthAdjust="spacingAndGlyphs">Cytarabine</text>
<text x="449.00" y="407.90" font-size="8.2" text-anchor="middle" textLength="78.00" lengthAdjust="spacingAndGlyphs">AML cell lines (n = 19)</text>
<line x1="409.40" y1="413.28" x2="409.40" y2="537.48" stroke="#1c1c1c" stroke-width="1.3"/>
<line x1="408.80" y1="536.88" x2="490.50" y2="536.88" stroke="#1c1c1c" stroke-width="1.3"/>
<line x1="407.20" y1="415.98" x2="409.40" y2="415.98" stroke="#1c1c1c" stroke-width="0.9"/>
<text x="403.30" y="418.28" font-size="7.4" class="h" text-anchor="end">40</text>
<line x1="407.20" y1="440.16" x2="409.40" y2="440.16" stroke="#1c1c1c" stroke-width="0.9"/>
<text x="403.30" y="442.46" font-size="7.4" class="h" text-anchor="end">30</text>
<line x1="407.20" y1="464.34" x2="409.40" y2="464.34" stroke="#1c1c1c" stroke-width="0.9"/>
<text x="403.30" y="466.64" font-size="7.4" class="h" text-anchor="end">20</text>
<line x1="407.20" y1="488.52" x2="409.40" y2="488.52" stroke="#1c1c1c" stroke-width="0.9"/>
<text x="403.30" y="490.82" font-size="7.4" class="h" text-anchor="end">10</text>
<line x1="407.20" y1="512.70" x2="409.40" y2="512.70" stroke="#1c1c1c" stroke-width="0.9"/>
<text x="403.30" y="515.00" font-size="7.4" class="h" text-anchor="end">0</text>
<line x1="407.20" y1="536.88" x2="409.40" y2="536.88" stroke="#1c1c1c" stroke-width="0.9"/>
<text x="403.30" y="539.18" font-size="7.4" class="h" text-anchor="end">−10</text>
<line x1="432.40" y1="536.88" x2="432.40" y2="539.88" stroke="#1c1c1c" stroke-width="0.9"/>
<line x1="467.40" y1="536.88" x2="467.40" y2="539.88" stroke="#1c1c1c" stroke-width="0.9"/>
<text x="432.40" y="548.75" font-size="7.4" text-anchor="middle">Low</text>
<text x="467.40" y="548.75" font-size="7.4" text-anchor="middle">High</text>
<text x="425.50" y="561.25" font-size="8.8" font-style="italic" textLength="31.50" lengthAdjust="spacingAndGlyphs">HERC1</text>
<text x="459.80" y="561.25" font-size="8.4" textLength="15.40" lengthAdjust="spacingAndGlyphs">levels</text>
<text class="h" x="384.1" y="476.6" font-size="8" text-anchor="middle" textLength="30.8" lengthAdjust="spacingAndGlyphs" transform="rotate(-90 384.1 476.6)">IC50 (μM)</text>
<path d="M467.65,443.60 C467.67,444.33 467.69,446.57 467.75,448.00 C467.81,449.43 467.76,451.03 468.00,452.20 C468.24,453.37 468.83,454.15 469.20,455.00 C469.57,455.85 469.87,456.30 470.20,457.30 C470.53,458.30 470.95,459.65 471.20,461.00 C471.45,462.35 471.60,464.15 471.70,465.40 C471.80,466.65 471.82,467.57 471.80,468.50 C471.78,469.43 471.70,470.00 471.60,471.00 C471.50,472.00 471.38,473.33 471.20,474.50 C471.02,475.67 470.75,476.65 470.50,478.00 C470.25,479.35 469.95,481.22 469.70,482.60 C469.45,483.98 469.07,485.07 469.00,486.30 C468.93,487.53 469.10,488.78 469.30,490.00 C469.50,491.22 469.80,492.52 470.20,493.60 C470.60,494.68 471.17,495.62 471.70,496.50 C472.23,497.38 472.83,498.07 473.40,498.90 C473.97,499.73 474.57,500.63 475.10,501.50 C475.63,502.37 476.10,503.18 476.60,504.10 C477.10,505.02 477.75,506.12 478.10,507.00 C478.45,507.88 478.70,508.57 478.70,509.40 C478.70,510.23 478.45,511.13 478.10,512.00 C477.75,512.87 477.18,513.73 476.60,514.60 C476.02,515.47 475.30,516.33 474.60,517.20 C473.90,518.07 473.07,519.00 472.40,519.80 C471.73,520.60 471.13,521.30 470.60,522.00 C470.07,522.70 469.60,523.33 469.20,524.00 C468.80,524.67 468.44,525.33 468.20,526.00 C467.96,526.67 467.84,527.33 467.75,528.00 C467.66,528.67 467.67,529.67 467.65,530.00 L467.15,530.00 C467.13,529.67 467.14,528.67 467.05,528.00 C466.96,527.33 466.84,526.67 466.60,526.00 C466.36,525.33 466.00,524.67 465.60,524.00 C465.20,523.33 464.73,522.70 464.20,522.00 C463.67,521.30 463.07,520.60 462.40,519.80 C461.73,519.00 460.90,518.07 460.20,517.20 C459.50,516.33 458.78,515.47 458.20,514.60 C457.62,513.73 457.05,512.87 456.70,512.00 C456.35,511.13 456.10,510.23 456.10,509.40 C456.10,508.57 456.35,507.88 456.70,507.00 C457.05,506.12 457.70,505.02 458.20,504.10 C458.70,503.18 459.17,502.37 459.70,501.50 C460.23,500.63 460.83,499.73 461.40,498.90 C461.97,498.07 462.57,497.38 463.10,496.50 C463.63,495.62 464.20,494.68 464.60,493.60 C465.00,492.52 465.30,491.22 465.50,490.00 C465.70,488.78 465.87,487.53 465.80,486.30 C465.73,485.07 465.35,483.98 465.10,482.60 C464.85,481.22 464.55,479.35 464.30,478.00 C464.05,476.65 463.78,475.67 463.60,474.50 C463.42,473.33 463.30,472.00 463.20,471.00 C463.10,470.00 463.02,469.43 463.00,468.50 C462.98,467.57 463.00,466.65 463.10,465.40 C463.20,464.15 463.35,462.35 463.60,461.00 C463.85,459.65 464.27,458.30 464.60,457.30 C464.93,456.30 465.23,455.85 465.60,455.00 C465.97,454.15 466.56,453.37 466.80,452.20 C467.04,451.03 466.99,449.43 467.05,448.00 C467.11,446.57 467.13,444.33 467.15,443.60 Z" fill="#c8102e" stroke="#3a0a10" stroke-width="0.6" stroke-linejoin="round"/>
<line x1="467.40" y1="529.00" x2="467.40" y2="537.00" stroke="#3a0a10" stroke-width="0.7"/>
<line x1="456.20" y1="509.40" x2="478.60" y2="509.40" stroke="#3a0a10" stroke-width="0.7"/>
<line x1="463.60" y1="474.50" x2="471.20" y2="474.50" stroke="#3a0a10" stroke-width="0.6"/>
<text x="467.40" y="438.60" font-size="6.5" text-anchor="middle">*</text>
<path d="M432.60,490.20 C432.85,490.48 433.63,491.33 434.10,491.90 C434.57,492.47 435.40,493.07 435.40,493.60 C435.40,494.13 434.54,494.60 434.10,495.10 C433.66,495.60 432.98,495.33 432.75,496.60 C432.52,497.87 432.51,501.58 432.75,502.70 C432.99,503.82 433.76,503.08 434.20,503.30 C434.64,503.52 435.07,503.72 435.40,504.00 C435.73,504.28 435.88,504.67 436.20,505.00 C436.52,505.33 436.88,505.67 437.30,506.00 C437.72,506.33 438.10,506.67 438.70,507.00 C439.30,507.33 440.23,507.67 440.90,508.00 C441.57,508.33 442.18,508.67 442.70,509.00 C443.22,509.33 443.88,509.67 444.00,510.00 C444.12,510.33 443.73,510.67 443.40,511.00 C443.07,511.33 442.70,511.67 442.00,512.00 C441.30,512.33 440.13,512.67 439.20,513.00 C438.27,513.33 437.20,513.67 436.40,514.00 C435.60,514.33 435.02,514.63 434.40,515.00 C433.78,515.37 432.98,516.00 432.70,516.20 L432.10,516.20 C431.82,516.00 431.02,515.37 430.40,515.00 C429.78,514.63 429.20,514.33 428.40,514.00 C427.60,513.67 426.53,513.33 425.60,513.00 C424.67,512.67 423.50,512.33 422.80,512.00 C422.10,511.67 421.73,511.33 421.40,511.00 C421.07,510.67 420.68,510.33 420.80,510.00 C420.92,509.67 421.58,509.33 422.10,509.00 C422.62,508.67 423.23,508.33 423.90,508.00 C424.57,507.67 425.50,507.33 426.10,507.00 C426.70,506.67 427.08,506.33 427.50,506.00 C427.92,505.67 428.28,505.33 428.60,505.00 C428.92,504.67 429.07,504.28 429.40,504.00 C429.73,503.72 430.16,503.52 430.60,503.30 C431.04,503.08 431.81,503.82 432.05,502.70 C432.29,501.58 432.27,497.87 432.05,496.60 C431.82,495.33 431.14,495.60 430.70,495.10 C430.26,494.60 429.40,494.13 429.40,493.60 C429.40,493.07 430.23,492.47 430.70,491.90 C431.17,491.33 431.95,490.48 432.20,490.20 Z" fill="#3497c6" stroke="#0e2a3c" stroke-width="0.7" stroke-linejoin="round"/>
<line x1="427.80" y1="505.80" x2="437.00" y2="505.80" stroke="#123a55" stroke-width="0.55"/>
<line x1="423.50" y1="508.30" x2="441.30" y2="508.30" stroke="#123a55" stroke-width="0.55"/>
<line x1="421.00" y1="510.00" x2="443.80" y2="510.00" stroke="#123a55" stroke-width="0.55"/>
<line x1="423.00" y1="512.00" x2="441.80" y2="512.00" stroke="#123a55" stroke-width="0.55"/>
</g>
</svg>
</body></html>
